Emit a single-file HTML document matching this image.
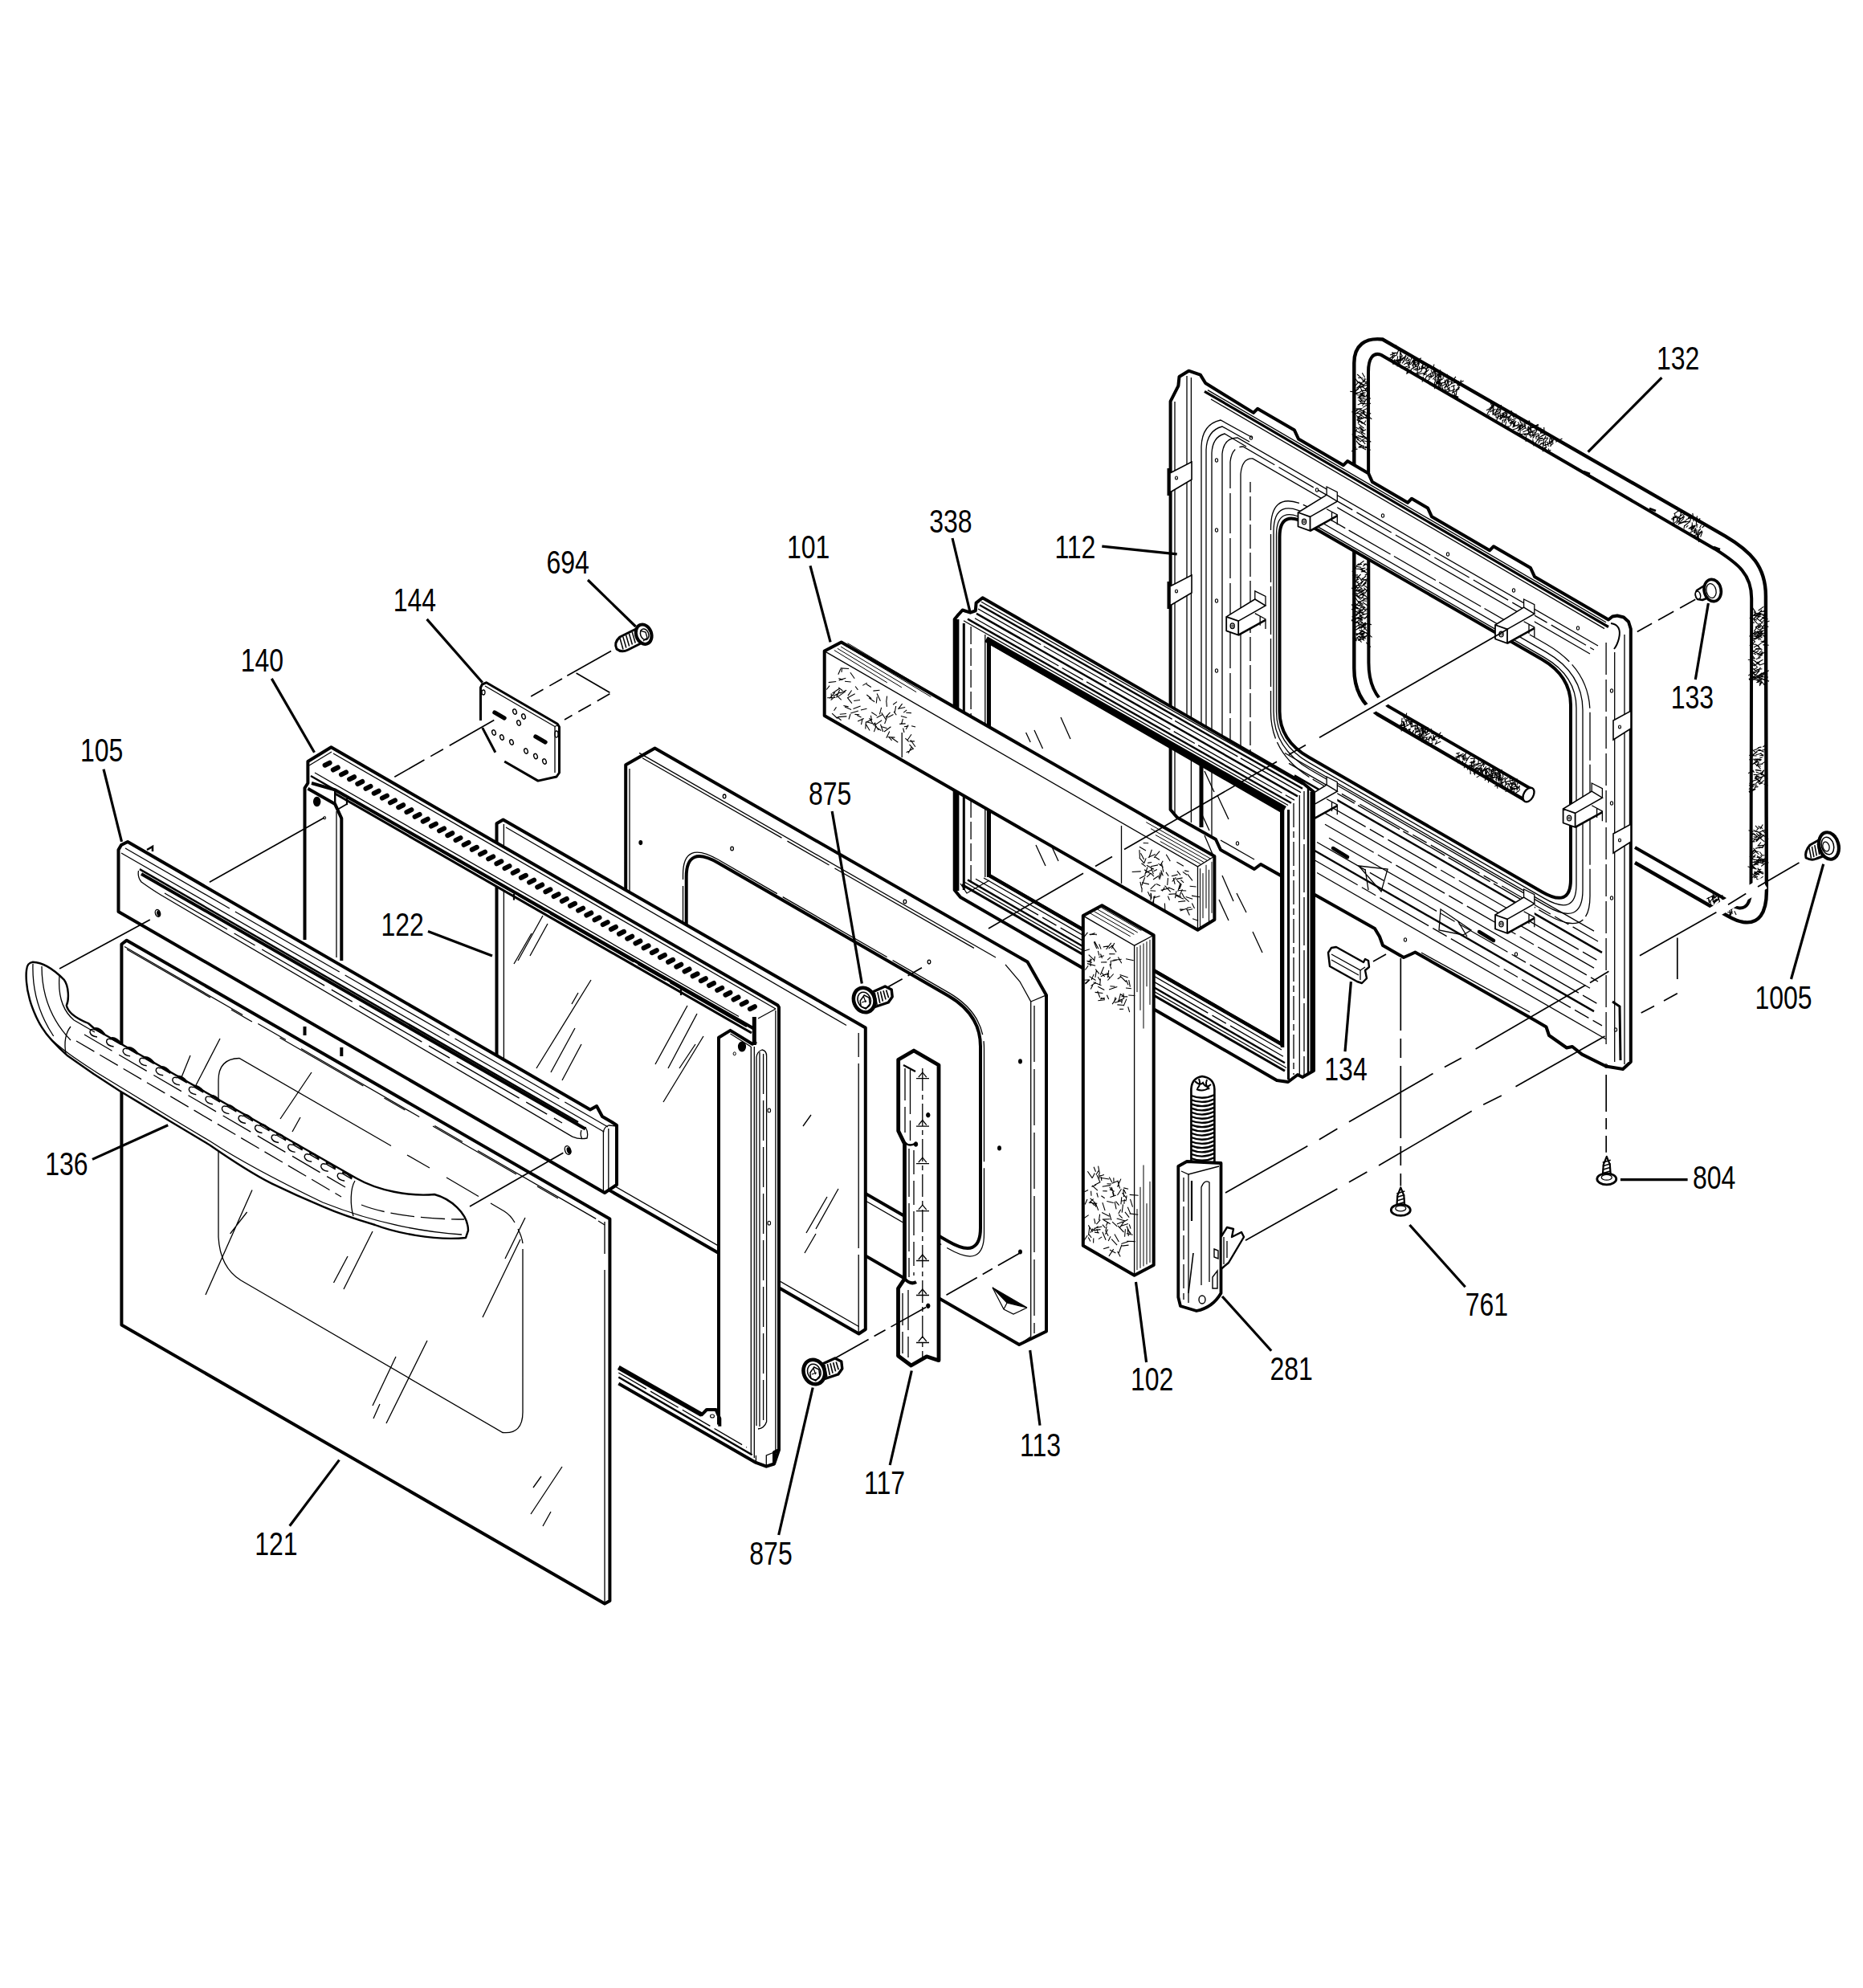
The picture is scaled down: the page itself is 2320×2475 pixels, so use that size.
<!DOCTYPE html><html><head><meta charset="utf-8"><title>Door assembly parts diagram</title><style>html,body{margin:0;padding:0;background:#fff}svg{display:block}text{font-family:"Liberation Sans",sans-serif;fill:#000}</style></head><body><svg width="2320" height="2475" viewBox="0 0 2320 2475"><rect width="2320" height="2475" fill="#fff"/>
<path d="M 1898,995.6 L 1715,889 C 1698,878 1686.3,860 1686.3,832 L 1686.3,452 C 1686.3,430 1700,420 1721.7,422.5 L 2148.3,667.3 C 2180,686 2198.9,705 2198.9,742 L 2199.9,1109.5 C 2199.9,1137 2190,1151 2170.9,1148 C 2160,1146 2155,1142 2148.3,1138.5 L 2036,1074" fill="none" stroke="#000" stroke-width="4.4"/>
<path d="M 1908.6,983.3 L 1729,879.4 C 1712,868 1704.4,850 1704.4,825 L 1704,463 C 1704,446 1710,438 1720,441.9 L 2135.5,683.4 C 2165,702 2181.2,715 2181.2,745 L 2180.5,1106.3 C 2180,1124 2175,1131 2166,1130.4 C 2160,1130 2155,1127 2148.3,1119.2 L 2036,1055" fill="none" stroke="#000" stroke-width="4"/>
<ellipse cx="1903.5" cy="989.5" rx="6" ry="9.5" fill="#fff" stroke="#000" stroke-width="2.4" transform="rotate(30 1903.5 989.5)"/>
<path d="M1743.3,450.5 L1739.8,456.4 M1769.9,462.6 L1761.5,465.8 M1802.3,477.6 L1798.4,483.2 M1794.7,469.8 L1793.6,460.3 M1736.7,441.7 L1729.9,446.7 M1772.1,453.5 L1770,457.2 M1755.6,447.4 L1751.3,449.8 M1734.3,445.2 L1734,438.2 M1811.8,490.2 L1812.2,494.8 M1788.8,478.2 L1793.1,474.7 M1758.6,455 L1762.4,448.6 M1785.5,461.3 L1786.7,457 M1748.5,448.6 L1750.5,442.1 M1770.1,460.3 L1772.4,453.6 M1777.6,456.7 L1784.3,456.6 M1783.2,466 L1790.2,465.4 M1796.4,475.9 L1792.8,482.4 M1810.6,484.8 L1808.4,489.8 M1815.1,477.9 L1822.6,474.1 M1792,477.9 L1794.1,472.5 M1736.8,447.2 L1733.9,452.4 M1774.8,460.5 L1778.5,457 M1784.3,467.7 L1779.3,468.6 M1779.2,471.4 L1786,467.2 M1753,456 L1744.7,458.7 M1734.3,443.9 L1733.4,448.4 M1765.6,450.5 L1764.2,445 M1755.3,455.2 L1752.4,459.7 M1737.7,439.7 L1731,441.9 M1806.9,481.5 L1812.3,479.8 M1740.1,434.9 L1738.5,429.5 M1790.1,474.6 L1792.1,482.5 M1798.7,476.9 L1799.7,472.6 M1782.4,464.3 L1777.2,468.5 M1809.7,489.2 L1810.1,484 M1808.4,486.3 L1800.7,487.8 M1808.6,474.7 L1812.9,468.9 M1746.1,452.5 L1750.1,445.7 M1766.3,455.5 L1767.7,451.4 M1753.4,444 L1750.2,449.5 M1758.4,459.6 L1751.5,464.3 M1757.7,461.2 L1751.3,465.5 M1786.5,475.2 L1786.7,484.2 M1790.1,471.4 L1788.5,479.6 M1744.1,439.8 L1743.1,447.9 M1780.6,471.9 L1775.9,474.9 M1803.6,481.2 L1803.7,472.3 M1781.9,460.4 L1784.1,465.5 M1795.7,480.4 L1801,477.8 M1764.7,458.3 L1760.2,460.6 M1805.8,481.8 L1799.7,487.1 M1795.6,480.3 L1793,475 M1741.4,450.1 L1744.8,456 M1771.4,454.6 L1772,459.5 M1740.3,449.9 L1747,448 M1760.3,450.4 L1759.1,456.1 M1741.7,435.7 L1738.7,443.2 M1772.3,458.4 L1779,458.1 M1815.4,479.8 L1822.5,479 M1777.1,467.3 L1774.3,473.1 M1761.4,451 L1764.6,457 M1769.7,462.5 L1771.7,456.4 M1760.8,452 L1767.2,450.2 M1760.4,451.9 L1764.3,447.4 M1758.1,445.3 L1756.4,449.4 M1743.7,438 L1743.6,445.1 M1771.9,467.2 L1776.9,465.6 M1737.9,449.2 L1745,448.6 M1802,475.5 L1808.2,474.8 M1755.7,458.4 L1752.7,452.3 M1757.4,459.6 L1764.5,455.5 M1793.3,476.7 L1787.8,478.2 M1791,475 L1793.6,481.6 M1799.3,477.8 L1801.7,472.5 M1767.8,456.2 L1767.1,460.9 M1767.8,460 L1762.3,460.9 M1746.7,442.7 L1742.1,448.4 M1785.9,464.8 L1787.5,462 M1787.3,469.1 L1787.9,461.9 M1774.8,462.5 L1773.3,466.6 M1804.6,486.9 L1802.1,480.3 M1740.6,443.4 L1739.7,451.5 M1807,478.3 L1808.9,471.8 M1789.4,475.2 L1796.5,472.3 M1811.3,485.1 L1806.3,486.9 M1778.7,469.4 L1782.7,467.7 M1762.7,456.2 L1759.9,450 M1811.3,489 L1812.5,496.8 M1814.3,479.6 L1819.5,474.6 M1791.4,471.5 L1794,464.2 M1799.7,476.1 L1793.8,477.3 M1804.4,487.5 L1805.3,483.7 M1745.9,442.9 L1742.9,436.1 M1750.6,448 L1753.4,445.7 M1803.9,474.8 L1803.8,469.4 M1783.6,463.8 L1790.1,460.1 M1812.6,485.4 L1818.1,482.1 M1781.5,464.8 L1782.4,470.6 M1742.7,448.5 L1748.3,445 M1815.5,480.2 L1816.3,474.3 M1776.3,461.4 L1772.8,466 M1772.4,458.2 L1776.8,454.9 M1773.3,464.5 L1765.7,465.9 M1756.5,454 L1760.3,447.6 M1814.2,484.9 L1813.2,492.6 M1815.4,483 L1817.7,479.7 M1767.3,450.3 L1763.8,454.2 M1803.3,480.7 L1809.2,476.3 M1772.7,465.7 L1777.1,461.1 M1766.6,460.3 L1772.7,456.6 M1800.8,482.3 L1802.8,475.2 M1754.7,454.8 L1754.7,446.3 M1801.7,478.1 L1799.1,482.9 M1795.1,473.3 L1792.6,466.2 M1772.4,468.9 L1771.1,475.7 M1785.5,464.2 L1785.2,459.2 M1738.6,447.6 L1735.9,452.6 M1796.3,469.8 L1802.8,466.1 M1755.8,453.8 L1754.5,448.1 M1795.5,480.9 L1798,487.8 M1789.1,476.8 L1792,474.6 M1760.8,453.7 L1761,445.9 M1787.5,464.6 L1787.8,473.9 M1792.5,474.8 L1791,468.8 M1744.5,449 L1744.3,443.2 M1790.9,475.8 L1787.5,479.2 M1777.3,457.7 L1776.2,461.8 M1808.1,477.3 L1813.1,476.3 M1811.3,485.8 L1809.8,479.3 M1793.3,466.8 L1789.5,470.5 M1750.4,444.4 L1747.7,451.1 M1750.4,452.4 L1757.1,450.7 M1817.8,480.1 L1819.4,472.9 M1765.1,458.6 L1765.2,467.5 M1798.2,470.6 L1790.7,475 M1791.4,465.1 L1788.5,469.2 M1799.3,483.7 L1801.1,488.7 M1740.1,439.1 L1733.3,439.6 M1784.2,472.4 L1789.2,467.7 M1765.2,459.6 L1766.5,451.2 M1736.7,448.2 L1734.8,454.1 M1779.7,466 L1777,468.6 M1748.2,453.9 L1753.1,450.7 M1792.9,477 L1794.4,485.7 M1744.1,452.2 L1743.1,443.2 M1740.1,448.1 L1742.4,455.7 M1738,442.2 L1734.2,446.2 M1788.9,477.3 L1786.3,472 M1802,471.6 L1802.7,476 M1762.7,449.8 L1769.9,445.8 M1759.8,453 L1760.3,448.2 M1760.1,459.1 L1759.8,450 M1787.6,469.4 L1795,464.5 M1790.8,472.7 L1792.4,464.9 M1748.5,445.6 L1744,449.6 M1784.3,460.7 L1785.9,453.5 M1759.9,451.9 L1762.3,447.8 M1779.6,459.8 L1774,465.4 M1737.1,449.2 L1744.3,446.9 M1810.3,488.5 L1817.3,483.7 M1745.6,446.5 L1751.5,443 M1789.5,475.4 L1793.4,472 " fill="none" stroke="#000" stroke-width="1.1"/>
<path d="M1928.2,558.5 L1929.9,563.5 M1912.6,544.7 L1916.1,541.3 M1904,531.1 L1903.6,537 M1931.3,560.3 L1926,563.9 M1861.3,503.8 L1857.3,507.8 M1926.2,550.2 L1918.2,552.4 M1883.7,518.8 L1888.3,515 M1866.7,521.4 L1874.4,517.8 M1913.9,547.5 L1921.2,546 M1866,518.7 L1863,524.6 M1891.1,536.3 L1892.4,530.6 M1922.7,554.5 L1929.8,552.3 M1913,541.9 L1912.9,546.7 M1865.3,520.9 L1865.6,515.8 M1930.1,555.6 L1934.5,551.6 M1903.4,533.3 L1910,532.3 M1908,532 L1915.8,528.3 M1868.5,520 L1867.9,515.7 M1870.4,523.3 L1875.9,522.3 M1876.7,515.9 L1875.2,523.6 M1858.6,507.8 L1856.3,501.8 M1934.8,547 L1928.9,551.3 M1922.6,542 L1923.5,537.8 M1854.9,516.1 L1851.3,518.6 M1902.5,539.9 L1895.7,540.3 M1889,532.4 L1895,528.1 M1922.5,551.1 L1921.4,556.8 M1883.2,517.9 L1882.1,511 M1902.6,534.2 L1904.5,541.8 M1875,521.5 L1872.9,526.3 M1869.5,509.1 L1863.6,509.5 M1905.7,538 L1914.9,534.1 M1874,518.2 L1877.5,515.2 M1917.5,548.2 L1915.5,552.2 M1858.8,502.5 L1858.5,508.3 M1877.2,514.4 L1872.2,516.1 M1896.9,532 L1896.3,526.2 M1924.1,556.4 L1920.9,562.2 M1904.8,529.7 L1904.1,523.3 M1860.3,516.2 L1867.2,514.5 M1905.4,534.1 L1896.4,538 M1912.7,535.3 L1916.9,532.3 M1856.6,508.1 L1851,510.8 M1905.2,530.4 L1907.4,537 M1859.3,514.8 L1860.2,510.6 M1890.2,532.9 L1883.7,535 M1858.9,516.1 L1864.1,511.9 M1855.8,511.1 L1859.3,505.1 M1883.9,524.3 L1880.6,530.5 M1889.9,536.1 L1896.9,532 M1880.7,518.6 L1877.1,523 M1906.3,545.1 L1905.1,537.5 M1879.9,530.9 L1873.4,531.6 M1859,517 L1859.2,507.9 M1880.7,518.6 L1883.3,512.7 M1899.7,527.8 L1905.3,524.4 M1862.6,512.7 L1863.3,520.8 M1890.4,532.2 L1895.9,529.5 M1903.5,530.5 L1901.8,535.7 M1927.9,545.5 L1924,549.8 M1908.7,546.8 L1910.1,555.3 M1879.7,526.6 L1886.5,523.2 M1872.1,520.1 L1879.7,518.6 M1909.3,531.8 L1916.1,529.4 M1904.7,542.5 L1908.7,541 M1900.6,541.5 L1900.1,549.9 M1918.6,540.3 L1918.8,532.6 M1922,541.3 L1916.3,545.1 M1900.5,534.2 L1898.2,528 M1855.3,508 L1861.6,503.3 M1892.5,533 L1890.1,537.1 M1860.3,504.1 L1859.4,511.5 M1918.4,543.7 L1925.5,540.3 M1868.3,510.1 L1863.6,513.2 M1855.4,509.2 L1851.8,516.2 M1886,525.3 L1883.8,532.5 M1893.4,531.2 L1892.9,539.7 M1878.3,524.1 L1880.7,517.4 M1925.2,542.5 L1922.4,548 M1920.9,551.7 L1915,555.4 M1893.6,526.2 L1891.8,519.9 M1921.4,545 L1914.5,546.7 M1894,525.4 L1895.4,532.3 M1929.2,550.6 L1930.5,544.1 M1864.9,509.4 L1865.7,505.1 M1881.3,528.4 L1884.9,525.5 M1884.7,530.8 L1891.5,529.2 M1893.8,534 L1900.3,528.8 M1921.4,554.3 L1922.7,547.1 M1903.6,539.4 L1897.7,541.7 M1932.7,551.2 L1932.2,544.6 M1934.6,548.5 L1931.4,550.5 M1925.6,555.9 L1922.6,562.1 M1871.5,523.3 L1870.4,528.5 M1868.4,512.8 L1860.8,517.2 M1873.2,514.5 L1868.9,518.1 M1876.6,516.4 L1872.2,520.9 M1919.6,538.6 L1920.9,534.9 M1920,540 L1921.2,534.1 M1915.6,545.5 L1917.1,540.4 M1892,531.8 L1895.4,528.3 M1901.8,536.1 L1909.3,531.4 M1892,528.3 L1885.1,530.8 M1937.3,550.2 L1945.5,546 M1862.6,509.2 L1855,512.9 M1885.4,520.4 L1883.2,514.6 M1931.6,555.5 L1930.7,551 M1893.1,531.4 L1890.5,525.4 M1867.9,522.6 L1873.4,517.5 M1927.7,544.7 L1920.9,547.1 M1865.8,509.5 L1862.8,511.8 M1902.2,541.7 L1906.1,535.3 M1930.8,546.9 L1934,544.5 M1872.7,516.4 L1869.6,519.9 M1884.7,530.4 L1888,524.1 M1875.8,524.7 L1873.9,532.7 M1909.8,542.8 L1908.4,538.1 M1870,518.1 L1875.7,514.2 M1911.4,540.7 L1916.5,539.7 M1921.1,548.5 L1915.4,549 M1905.5,538.4 L1912.6,537.8 M1927.2,549.8 L1928.2,555.8 M1912.7,538.2 L1915.6,531.2 M1886.6,530.3 L1885.4,523.3 M1912.8,538.2 L1907.3,543.7 M1898.8,532 L1898.6,525.2 M1915.4,546.7 L1911.4,552.4 M1882.9,523.9 L1880.4,527.6 M1870.6,516.6 L1864.2,519.8 M1900.8,540.9 L1904.6,538.2 M1924.5,551.8 L1925.6,557.9 M1882.5,516 L1876.8,521.2 M1882.3,520 L1878.3,525.4 M1886.1,531.9 L1884,526.8 M1866.3,516.4 L1864.6,521.3 M1927.1,552.8 L1934.2,550.5 M1868.6,512.6 L1869.5,504.1 M1908.6,545.7 L1911.9,540.7 M1875.9,515.5 L1873.9,510.3 M1905.5,535.9 L1907.1,530.6 M1893.9,528.8 L1892.1,532.7 M1923.4,541.3 L1922.7,531.9 M1912.3,540 L1909.5,545 M1894.5,535.9 L1900,532.2 M1876.2,512.5 L1869.7,515.1 M1880.5,523.6 L1888.2,521 M1862.7,513.5 L1863.9,510 M1867.6,512.2 L1869,520.4 " fill="none" stroke="#000" stroke-width="1.1"/>
<path d="M2093,645.8 L2096.9,642.4 M2091,635.5 L2084.5,639.9 M2120.1,661.5 L2117.6,668.5 M2089.2,645 L2095.6,640.3 M2111.8,649.5 L2113.5,642.4 M2083.3,645.1 L2090,642.9 M2106.8,660.8 L2108.9,656.2 M2114.8,665.2 L2110,666.5 M2119.3,660.5 L2116.1,665.8 M2099.6,646.7 L2107,644.2 M2105.6,660.2 L2111.2,655.1 M2087.9,648 L2092.8,641.8 M2112.2,652.2 L2113.8,644.7 M2084.5,645.7 L2083.3,654.4 M2102,644.8 L2108.3,643.2 M2085.7,642.4 L2085.8,638.4 M2112.1,665.2 L2113.2,659.3 M2086.9,642.9 L2084.2,645.2 M2109,649.2 L2108.9,645.2 M2115.5,665.9 L2113,670.3 M2106.8,655.3 L2114.4,653.2 M2103.3,650.3 L2097.7,654.7 M2119.1,661.8 L2115.1,666.2 M2109,646.9 L2107.8,638.9 M2107.2,653.4 L2105.9,660.2 M2114.5,650.4 L2121.1,650.4 M2094.1,645 L2089.5,649.2 M2096.9,645.3 L2092.5,649.6 M2115.7,651.2 L2116.9,645 M2090.5,648.6 L2087.5,651.9 M2112.5,650.5 L2113.3,656.7 M2097.6,654 L2097,658.3 M2116.3,658.9 L2114.4,662.7 M2089.3,647.9 L2083.2,652.6 M2112.2,659.5 L2104.6,663.1 M2093,650 L2089.7,653.3 M2100.4,648.1 L2091.3,651.4 M2115.1,665.4 L2115.5,675 M2119.6,657 L2124.9,652.3 M2104.8,648.8 L2097.8,650.2 M2107.2,650.4 L2107.6,658.9 M2106,660.4 L2110.8,654.6 M2083.6,643.3 L2083.1,647.7 M2104,650.5 L2106.5,643 M2091.1,650 L2092.5,644.4 M2091.6,644.8 L2090.8,652.7 M2114.9,664 L2112.4,670.9 M2118.6,653.5 L2116.5,657.5 M2100,649 L2091.8,652 M2092.3,638.2 L2097.8,637.5 M2088,641.9 L2084,645 M2107,655.3 L2102.6,658.4 M2088.9,643.4 L2081.1,646.3 M2092.2,642.4 L2094.3,636.5 M2112.1,659.1 L2109.3,663.6 M2110.2,654.5 L2104.1,658.4 M2102.3,654.2 L2099.6,656.7 M2112.4,664.7 L2118.1,662.3 M2094.5,645.3 L2098.1,643.2 M2113.8,663.1 L2117.9,658.1 M2087.9,643.3 L2089,647.8 M2089.7,636 L2088.4,630.8 M2083.2,644.7 L2087,642.6 M2110.8,663.9 L2109.3,655.9 M2111.8,657 L2110.8,664.2 M2121.1,655.2 L2126.9,653.3 M2095.9,641.4 L2100.8,639.3 " fill="none" stroke="#000" stroke-width="1.1"/>
<path d="M2195.4,781.2 L2190.6,776 M2184.4,796.1 L2191,792.8 M2193,808.3 L2189.2,804.9 M2185.6,843.5 L2192.2,839.8 M2188.3,787.9 L2194.6,792.4 M2188.6,767.8 L2194.6,763.9 M2195.5,802.6 L2202.7,803.2 M2184.5,787 L2190.1,791.2 M2191.2,805.8 L2185.5,801.7 M2185.8,787.5 L2182.6,789 M2189.5,785.2 L2184.4,791.2 M2191.2,777.6 L2195.1,774.9 M2186.7,792 L2191.1,796.9 M2195.9,769.1 L2199.9,770.5 M2192.3,781.4 L2188.5,775.9 M2184.7,822.8 L2192,828.3 M2192.8,761.6 L2200.2,760.6 M2188.4,844.9 L2181.7,841.2 M2194.9,800 L2199.6,797.9 M2196.1,760.8 L2199.9,759.2 M2195.4,786.1 L2188,782.6 M2196,765.3 L2199.8,761.1 M2190.1,763.7 L2194.2,759.1 M2186.3,807.6 L2191.1,807.4 M2191.2,781.8 L2188,778.8 M2185.5,840 L2180.3,837.1 M2193.9,781.8 L2198,777.5 M2184.2,764.6 L2189.8,763.5 M2187.9,841.1 L2194.5,841 M2193.9,768.4 L2200.8,773.5 M2187.9,790.3 L2194.5,794.1 M2187.9,807.5 L2181.8,812.6 M2195.7,846.1 L2203.1,848.1 M2184.6,764 L2188.2,766 M2194.5,765.4 L2200.4,768.4 M2193.8,843.5 L2196.8,837.6 M2195.2,838.9 L2201.8,843.4 M2184.9,809.6 L2188.8,807.5 M2186.3,840.3 L2191.4,834.6 M2188.7,763.1 L2193.9,764.4 M2191.9,772.5 L2198.3,766.6 M2185.6,835.4 L2189,834 M2192.5,830.9 L2188.5,836.5 M2195.2,768.6 L2201,768.7 M2185.2,799.1 L2178.7,803.6 M2192.7,777.6 L2185.9,781.2 M2184.9,775.1 L2181.2,775 M2189.4,790.5 L2196.5,784.5 M2189.4,788.1 L2194.6,787.9 M2193.4,766.8 L2186.6,770 M2188.3,848.7 L2194.3,846.5 M2190.4,842.2 L2183.3,846.6 M2188.5,830.8 L2183.5,834.1 M2187.8,792.6 L2184.2,788.3 M2194.4,832.8 L2187.3,833.7 M2188.4,791.5 L2184.9,796.8 M2187.9,776.2 L2183.4,770.4 M2183.9,761.8 L2190.7,765.5 M2194.6,845.8 L2189,846.7 M2186.5,844.4 L2179.1,846.2 M2186.7,820.8 L2192.5,818.4 M2191.3,843.5 L2197,845.9 M2193.6,787.9 L2198.1,793.8 M2191.3,840.9 L2196.2,838.3 M2196.6,797 L2200.4,799.4 M2191.8,815.3 L2199.1,811.2 M2183.6,766.1 L2191,767.3 M2195.5,788.1 L2191.4,793.2 M2186.2,840.3 L2182.6,837.9 M2194.5,845.3 L2201.1,845.9 M2193.2,846.3 L2187.8,841.5 M2192.5,762.9 L2188.9,768.8 M2184.7,786 L2190.9,787.9 M2184.9,845.7 L2191.1,848.1 M2189.3,825.1 L2184,829.3 M2195.8,803.6 L2199.6,800.7 M2187.5,795.2 L2180.7,793.9 M2196.4,798.1 L2189.4,803.6 M2194.6,773.7 L2201.5,770.5 M2190.3,809.8 L2184.1,813.7 M2187.2,849.7 L2194.4,848.2 M2185.5,836.3 L2179.9,837.7 M2192.6,842.1 L2198.5,843.3 M2188.2,763.4 L2192.4,765.3 M2184.7,787.7 L2178.8,791.7 M2184.7,840.2 L2191.7,842.6 M2189.6,814.4 L2182.2,809.4 M2190,824.2 L2195.5,821.2 M2195.8,778.1 L2202.3,780.4 M2183.5,770.5 L2190.3,764.5 M2188.3,835.9 L2182.5,838.7 M2190.3,763.1 L2186.6,767.8 M2185.7,827.4 L2181.4,828.6 M2191.2,763.1 L2198.6,767.4 M2187.4,786.9 L2194,786.1 M2196.5,775.7 L2203.5,773 M2191.3,828 L2197.1,825.9 M2193.3,815.8 L2188,813 M2184.4,785.8 L2188,780.9 M2194.5,848.8 L2191.1,854 M2184.7,820.2 L2179.5,818.3 M2183.4,801 L2179.6,805.1 M2183.6,770.3 L2188,772.2 M2195.7,841.6 L2188.9,844.3 M2186.4,762.4 L2182.6,756.9 M2192.3,789.2 L2199.7,787.6 M2194.4,849.1 L2198.4,854.5 M2183.5,821.6 L2186.8,824 M2185.4,820.1 L2181.9,815.8 M2189.4,803.1 L2183.9,806 M2186.5,835.5 L2183.3,832.1 M2189,781.4 L2192.9,779.6 M2187.2,792.7 L2179.9,790.9 M2193.9,848.3 L2190.8,852.2 M2184.1,825.8 L2178.8,823.5 M2191.4,824.7 L2187.8,824.3 M2190.7,792 L2187.1,795.4 M2191.1,825.9 L2187.6,826.6 M2190.2,840.5 L2197.6,836.7 M2188.6,815.4 L2194.3,809.6 M2185.9,799.3 L2182.3,795.5 M2190.9,785.7 L2195.3,781.7 M2187.6,791.1 L2193.1,796.3 M2192.2,783.2 L2197.6,781.6 M2194.1,837.6 L2189,842.2 M2183.4,813.6 L2187.1,814.8 M2185.7,764.6 L2178.7,769.9 M2188.6,830.6 L2183.1,825.3 M2185.1,802.8 L2181.1,800.2 M2183.8,822.2 L2176.8,821.2 M2189.6,760.2 L2196.4,755.1 M2195.7,799 L2200.6,796.4 M2183.9,836.1 L2177.2,841.1 M2183.3,843.1 L2180.2,840.6 M2191,806.6 L2194.4,808.6 M2189.9,816.7 L2195.3,811.5 M2194.9,799.3 L2198.4,797.2 M2193,790.5 L2187.4,792.2 M2183.9,766.3 L2187.6,766.9 M2192.6,798.2 L2197.3,798.5 M2193.4,808.3 L2187.6,808.1 M2189.4,818.6 L2195,815 M2187.5,846.2 L2193.8,845.6 M2192.6,789.9 L2188.2,787.7 M2190.2,778.8 L2185.9,780.8 M2185.1,788.4 L2178.5,792.4 M2195.5,775.9 L2188,770 M2196.7,838 L2202.7,834.7 " fill="none" stroke="#000" stroke-width="1.1"/>
<path d="M2186.7,961.1 L2193.3,964 M2196.4,976.1 L2201.5,977.9 M2195.2,975 L2190.1,975.6 M2196.6,958.7 L2192.6,963.7 M2194.6,968.3 L2188,969.7 M2196.7,936.3 L2189.8,932.9 M2185,979.1 L2189.3,979.6 M2194,963.9 L2201.2,969.5 M2192.7,974.7 L2188.1,970.4 M2192.7,933.3 L2187,935.4 M2192.6,946.9 L2185.9,944.7 M2187.2,954.1 L2190.5,948.3 M2185.3,967.5 L2188.4,965.9 M2196.6,958.9 L2193.4,964.4 M2186.5,939.8 L2193.7,938 M2189.7,947.7 L2183.2,950.7 M2185.1,969.9 L2188.3,965 M2188.5,947 L2181.4,952.1 M2192.5,957.3 L2188.1,952.2 M2187.4,937.4 L2180,932 M2189.5,979.3 L2184.7,980.5 M2190.6,971.3 L2185.7,976.3 M2190.1,931.6 L2183.3,934.4 M2188.2,977.5 L2181.7,976.7 M2185.3,937.5 L2181,943.5 M2183.6,972.6 L2178.5,975.4 M2192.8,954 L2188,952.5 M2183.8,979.4 L2178,977.5 M2193.1,934.5 L2199.6,932.8 M2186.3,969.3 L2192.4,972.4 M2187.2,948.2 L2183,951.4 M2192.8,964.5 L2200,965.5 M2189.4,930.6 L2193.5,930.1 M2188,970.8 L2181.4,972.6 M2185.6,966.9 L2190.1,971.3 M2183.6,964.4 L2190.9,964.8 M2185.5,938.3 L2178.2,940.6 M2186.9,966 L2190.7,967 M2191.1,963.3 L2196.9,964.9 M2196.4,966 L2192.7,967.8 M2187.5,941 L2181.7,940.6 M2196,941.3 L2192.4,937.5 M2196.3,939.7 L2191.2,941 M2193.5,959.5 L2186.5,958.4 M2191.2,943.9 L2194.7,942.4 M2188.5,931.8 L2191.9,929.9 M2183.8,959 L2177.1,962.8 M2191.8,962.1 L2195.4,962.9 M2183.7,977.9 L2177.9,982.6 M2195.3,930 L2200.8,925.7 M2184.7,961.5 L2180,958.2 M2183.6,944.6 L2188.3,949.5 M2193.2,959.8 L2185.8,958.8 M2183.5,946 L2178.2,945.7 M2188.4,936.1 L2183.4,939.5 M2196.6,971.3 L2191.2,976.6 M2193.4,969.1 L2189.2,975 M2188.5,944.7 L2193.7,945.9 M2195.2,967.2 L2188.7,967.6 M2192.7,946.8 L2187.4,945.1 M2188.8,967.3 L2185.6,966.7 M2184.8,975.8 L2179.3,979.2 M2189,951.4 L2195.2,951.2 M2191.5,975.6 L2196.3,971.9 M2185.5,944.8 L2188.8,947.2 M2192.9,951.6 L2199.4,947.4 M2189.3,953.9 L2184.1,949.8 " fill="none" stroke="#000" stroke-width="1.1"/>
<path d="M2185.7,1081.6 L2180.5,1075.6 M2190.4,1073.1 L2184,1076.3 M2185.9,1047.7 L2179.6,1048.2 M2194.1,1074.3 L2199.6,1071.5 M2187.5,1082.2 L2180.7,1077.3 M2185.9,1082 L2180.9,1078.4 M2192.8,1071.3 L2200.1,1067.7 M2191.9,1072.6 L2199.1,1072.8 M2187.3,1071.9 L2194,1066.2 M2188.6,1053.5 L2193,1048.6 M2189.7,1087.2 L2193.2,1085 M2190.2,1042.8 L2186.6,1047.1 M2196.6,1075.4 L2190.1,1073.4 M2188.4,1088.8 L2184,1087.5 M2183.3,1038.2 L2180,1041.2 M2183.5,1055.9 L2187.6,1060.6 M2184.7,1073.6 L2189.8,1077.1 M2190.4,1063.6 L2184.2,1058.6 M2193.2,1078.5 L2198.4,1074.6 M2195.1,1031.4 L2189.4,1028.5 M2184.2,1059.3 L2180.1,1063.9 M2193.1,1069.8 L2188,1065.5 M2192.6,1054.5 L2186,1056.4 M2184.3,1093.1 L2189,1090.9 M2190.2,1055.9 L2196.7,1053.4 M2190.7,1030.4 L2187.4,1033.7 M2187.1,1037.3 L2191.7,1041.5 M2194.1,1034 L2201.4,1033.1 M2185.8,1080.8 L2180.6,1076.1 M2194.8,1053.5 L2200.6,1049.3 M2195.4,1070.8 L2198.9,1070.4 M2188.3,1088.5 L2182.1,1092.5 M2188.4,1035.4 L2195.5,1040.1 M2187.4,1059.4 L2180.8,1064.7 M2190.8,1089.1 L2184.3,1086.4 M2195.9,1076.3 L2202.5,1073.7 M2195.6,1091.1 L2188.8,1096.7 M2184.3,1058 L2181.2,1061.8 M2189.5,1071.5 L2186.4,1070 M2183.3,1033.4 L2189.8,1035.8 M2195.7,1052.3 L2189.4,1052.9 M2190.1,1060.2 L2186.7,1060.4 M2189.7,1032 L2186,1027.8 M2191.5,1066.9 L2187.5,1067.7 M2191.1,1089.2 L2187.4,1086.1 M2186.1,1067.2 L2180.6,1065.1 M2190.8,1054.8 L2195.6,1055.4 M2187.1,1073 L2193,1071.5 M2183.6,1073.3 L2187.4,1071.9 M2196.2,1034 L2189.8,1036.5 M2191.8,1036.5 L2194.9,1039.9 M2189.1,1044.7 L2182,1044.3 M2185.1,1077.1 L2188.8,1072.5 M2183.5,1037.3 L2186.7,1040.3 M2186.9,1073.9 L2181,1073.3 M2185.1,1043.1 L2191.7,1039.7 M2193.3,1068.5 L2199.9,1074.4 M2187.5,1076 L2181,1077.2 M2191.8,1032.1 L2195.3,1026.5 M2184,1089.9 L2188.9,1084.5 M2196.6,1039.1 L2193.3,1043 M2188.8,1035.7 L2184.5,1034.7 M2183.6,1041.8 L2188.3,1042.6 M2190.3,1070.7 L2186,1075.4 M2190.7,1042.5 L2197.3,1047.9 M2189.8,1082.6 L2193.4,1082.3 M2189.6,1086 L2195.7,1085.7 M2184.6,1084.7 L2188.3,1089.2 M2192.2,1085.6 L2188.1,1084 M2191.9,1085.6 L2188.8,1080.6 M2186.4,1070.5 L2179.2,1069 M2184.5,1038.2 L2191.2,1043.6 M2186.3,1063.8 L2181.1,1069.8 M2188.8,1084.7 L2195.7,1088.3 M2195,1034.3 L2198.5,1037 M2189.9,1040.1 L2193.4,1043.4 M2183.5,1035.6 L2177.5,1033.8 M2186.9,1040.3 L2179.8,1036.5 M2185.1,1070.9 L2178.8,1066.2 M2190.6,1069.9 L2197.2,1072.7 M2188.3,1093.1 L2181.2,1087.1 M2196.3,1087.4 L2188.9,1082.1 M2187,1047.9 L2191.7,1043.1 M2191.7,1084.3 L2185,1086.3 M2191.3,1060.5 L2194.4,1064.5 M2190.7,1036.8 L2193.8,1042.4 M2190.3,1074.1 L2187,1076.6 M2183.4,1081.6 L2176.5,1078.7 M2192.1,1065.2 L2197.5,1064.7 M2187.1,1093.8 L2190.3,1095.7 M2196.7,1070.4 L2189.8,1070.9 M2196.3,1041.1 L2193.2,1038.7 M2196,1040 L2202.2,1044.6 M2186.9,1044.1 L2181.2,1048.6 " fill="none" stroke="#000" stroke-width="1.1"/>
<path d="M1699.7,499.1 L1693.8,499.6 M1701,502.9 L1695.7,502.1 M1700.5,476.3 L1705.4,471.8 M1693.3,490.1 L1700.5,488.9 M1701.1,557.9 L1694.3,553.6 M1697.6,480.6 L1690.9,481.6 M1696.7,527.5 L1691.3,522.2 M1692.6,488.5 L1687.6,489.6 M1697.7,510.8 L1704.3,507.7 M1694.7,521.7 L1701.6,519.2 M1700.2,558.2 L1705,554 M1701.2,514 L1707.2,514.9 M1697.5,548.8 L1703.6,549.8 M1690.4,511.1 L1683.2,513 M1692.3,475.5 L1698.2,479.3 M1696.5,495.6 L1690.5,495.2 M1700.2,485.1 L1703.4,480.7 M1696.5,492.3 L1689.6,491.7 M1689.8,519.4 L1696.5,516.8 M1696.9,507.4 L1703.9,503.2 M1698.6,485.9 L1694.6,486.9 M1701.7,493.6 L1696.8,494.4 M1692.4,555.8 L1697.7,557.9 M1689.6,474.9 L1696.1,478.4 M1696.4,505.3 L1699.8,500.1 M1698.9,476.1 L1695.2,470.7 M1699.7,470 L1696.3,464.3 M1693.5,548.7 L1689.8,546.9 M1700.1,502.8 L1706.9,502.4 M1700.6,513.5 L1697.1,510.7 M1699.6,544.6 L1702.7,544.9 M1694.4,483.2 L1697.5,488.9 M1692.4,547.7 L1688.2,543.7 M1694.6,539.5 L1688.1,536.2 M1688.5,543 L1695.3,546.9 M1698.7,536.6 L1693.4,530.9 M1698,472.5 L1702.1,478 M1689.1,510.3 L1696.5,508.6 M1698.7,489.8 L1694.8,491.3 M1690.4,551 L1695.6,554.6 M1692.8,477.6 L1699.9,480.6 M1699.3,513 L1692.8,516.6 M1696.4,557.4 L1701.2,560.1 M1700,485.3 L1703.7,489 M1690.6,483.2 L1698,481.4 M1700,519.4 L1703,521.2 M1689.1,517.4 L1694.1,521.3 M1698.4,489 L1694,490 M1696.1,493.3 L1699.7,491.6 M1693.9,511.2 L1686.8,516.2 M1694.6,515.1 L1689.2,514.4 M1701.7,486.5 L1695.1,486.2 M1694.2,535.3 L1698.7,535.9 M1700.3,540.6 L1694.8,537.9 M1694.9,539.5 L1700.4,544.5 M1693.5,509.9 L1698.8,512.2 M1694.6,510.7 L1699.7,513.1 M1689,548.9 L1693.2,554.2 M1699.9,545.6 L1696.4,540.5 M1700.8,491.7 L1706.8,496.4 M1692.1,483.9 L1686.1,488.5 M1698.8,557.1 L1691.5,556.9 M1690.5,559.1 L1686.8,559.3 M1699.1,500.5 L1703.5,494.8 M1695.8,519.9 L1692.7,521.4 M1700.9,516.1 L1708.3,521.8 M1698.2,479.4 L1701.3,476.7 M1696,481.7 L1703.2,478.8 M1689.3,483.4 L1694.9,478.5 M1692.5,475.2 L1687.5,480.4 M1690.9,527.1 L1694.3,521.9 M1695.6,547.6 L1700.2,552.8 M1700,494.1 L1694.6,489.4 M1701.1,484.5 L1697.2,482.2 M1697.8,538.4 L1692.6,536.5 M1698.4,471.6 L1701.4,472.2 M1695.3,487.1 L1688.1,490.9 M1695.1,508.9 L1688.3,509 M1688.5,531.9 L1693,534.4 M1696.3,527.2 L1691.7,522.8 M1691.7,476.4 L1687.6,471.4 M1690,545.7 L1684,542.6 M1695.5,496.4 L1691.8,493.5 M1688.6,556.6 L1683.2,562.1 M1696.9,497.9 L1693.9,497.6 M1699,515.2 L1693.8,512.4 M1696.4,478.1 L1693.2,475.7 M1693.8,491 L1699.2,492.8 M1689.9,534.4 L1685.1,540.3 M1692,483.5 L1686.1,487.5 M1693.3,550.3 L1699.6,545.9 M1694.9,517.1 L1701.7,521.1 M1689.7,522.6 L1695.8,519.3 M1700,472.8 L1695.3,476.8 M1693.3,520.3 L1699.1,520.1 M1691,470.3 L1697.3,470.7 M1700.9,529.3 L1694.5,524.2 M1691.9,493.9 L1695.8,499.6 M1696.6,514.5 L1701.7,517.7 M1693.1,525.5 L1689.7,522.6 M1697.6,536.9 L1692.1,531.6 M1692.7,494.2 L1698.8,491.7 M1695.5,516.5 L1690.4,521.2 M1688.5,487.9 L1681.3,487.4 M1688.7,543.8 L1683.7,540.3 M1698.9,555.1 L1693.3,555.4 M1700,555.7 L1706.7,560.4 M1698.6,533.3 L1691.6,527.6 M1695.1,470.3 L1690.1,466 M1697.5,501 L1690.7,504 M1700.1,545.5 L1707.3,550.3 M1696.7,496.1 L1701.5,497.2 M1696,502.5 L1691.7,497.7 M1697.9,545.1 L1690.7,542.3 M1699.2,516 L1703.9,520.6 M1693.2,543.1 L1700.3,543.7 M1701.1,534.8 L1694.8,537.8 M1697.9,528 L1701.1,523.5 M1697.1,512.5 L1701.5,518.2 M1692.9,493.4 L1697.2,492.1 M1699.6,485.1 L1703.5,485 " fill="none" stroke="#000" stroke-width="1.1"/>
<path d="M1688.8,722.7 L1692.3,717.7 M1688.3,724.7 L1692.2,724.3 M1695.1,745.3 L1698.9,740.4 M1701.5,723.4 L1697.3,728.2 M1700.2,737.9 L1704.4,732.7 M1696.7,762 L1690.7,764.3 M1693,749.8 L1700,745.5 M1689,706.4 L1683.8,711.8 M1691.9,757.9 L1684.9,756.2 M1699.9,787.8 L1693.5,790.1 M1688.9,770.2 L1695.7,766.6 M1694.6,715 L1689.3,719.9 M1692.3,750.7 L1688.3,744.9 M1698.1,734.3 L1693.2,738.3 M1699.4,789.1 L1694.6,791.1 M1699,797.5 L1692.6,791.6 M1697.1,776.4 L1693.4,773.2 M1695.7,741 L1700.6,738.5 M1700.6,709.5 L1704.1,707.8 M1694.9,780.8 L1701.1,775.5 M1699.9,701.7 L1704.6,704.6 M1688.7,735.1 L1691.7,731.7 M1701.3,787.5 L1708.6,793.4 M1699.3,758 L1692,753 M1695,760.5 L1689.9,756 M1695.6,758.1 L1692.1,760.8 M1695.4,771.5 L1690.6,768.3 M1695.7,719.8 L1699.2,722.3 M1701.4,761.2 L1696.8,756.3 M1691.5,796.8 L1696.8,793.2 M1694.7,722.9 L1701,717 M1689.5,761.3 L1695.8,767.1 M1697.7,722.4 L1703.2,720.8 M1690.3,794.1 L1695.6,799.6 M1697.8,778.3 L1691,776.8 M1690.3,795.9 L1685.9,797.2 M1692.5,784.3 L1699.7,788.1 M1696.9,760.5 L1691.9,760.8 M1698.1,783.8 L1701.4,781.1 M1700.2,742 L1693.4,739.5 M1694.9,780.4 L1699.2,779.4 M1688.7,736.1 L1695.3,733.1 M1693.7,781.3 L1687,784.7 M1696.5,779.3 L1702.5,785.3 M1691.1,792 L1694.8,794.3 M1695.5,708.7 L1702.4,713.8 M1693.6,709.3 L1700.4,707.1 M1689.3,703.9 L1696.2,702.3 M1690.8,782.8 L1697,780.7 M1696.9,729.7 L1701.4,725 M1697.1,772.1 L1693.3,770.8 M1691.2,743.1 L1687.7,740.6 M1691.6,717.7 L1688.1,718.3 M1690.6,773.6 L1685.1,778.2 M1695.3,773.6 L1700.8,779.6 M1700,793.1 L1695.5,789.2 M1700.9,776.2 L1707.9,777.6 M1689.1,741.5 L1694.7,746.6 M1688.5,769.2 L1683.3,773.3 M1697.6,752.8 L1691.5,748.3 M1695,783.8 L1702.4,789 M1698.8,728.9 L1704.2,732.8 M1700.1,764.7 L1695.3,763.2 M1697.1,794.5 L1703.2,790.2 M1700.7,768.8 L1704.5,764.4 M1696,796.4 L1701.8,791.7 M1701.2,799.9 L1706.9,805.7 M1689,735.8 L1683,731.9 M1696.8,723.6 L1692.3,727.3 M1693.3,737.5 L1690.1,740 M1697.5,789.1 L1694.4,787.4 M1694.2,736.6 L1698.5,740.1 M1691.7,778.3 L1686.1,782.4 M1690.1,729 L1695.2,728.9 M1697.1,765.4 L1702.7,763.7 M1695.6,760 L1690.5,760.6 M1699.4,770.9 L1703.1,766 M1691.5,779.3 L1695.5,776.3 M1699.1,788.2 L1695.6,790.8 M1697.5,721.2 L1704.9,724 M1693.1,757.6 L1696.2,755.5 M1696.2,785.5 L1689.1,791.2 M1694.9,709.6 L1700,712.2 M1689.5,798.2 L1684.6,793.9 M1688.9,770.9 L1682.9,772.1 M1698.3,765.7 L1692.2,760 M1695.2,706.4 L1689,705.2 M1698.2,769.3 L1703.5,768.2 M1692.4,720.8 L1686.2,724.5 M1690.1,765.5 L1683.5,768.1 M1692.9,731.4 L1689.6,731.5 M1692.5,788.6 L1699.6,794.2 M1693.4,761.8 L1688.3,765.3 M1699.6,761 L1695.5,763.7 M1699,759.7 L1705.1,756.9 M1688.3,744.5 L1684.7,745.6 M1689.3,784 L1694.1,779.4 M1690.2,738.6 L1684.2,739.8 M1694.4,748.7 L1701.3,745.1 M1689,775.5 L1694.7,774 M1693.9,748.4 L1688.2,754.4 M1694.4,727.6 L1698.3,722.5 M1696.6,733.5 L1692.1,729.4 M1691,749.1 L1696.8,754.5 M1695.4,747.8 L1701.9,748.2 M1692.4,766.7 L1697.7,765.5 M1695.3,744.9 L1688.7,740.3 M1694.9,792.3 L1701,795.2 M1688.9,756.6 L1683.1,752.8 M1691.1,715.9 L1684,716.3 M1693.6,767.9 L1697.8,768.5 M1692.5,771.4 L1697.4,767.7 M1693,754.8 L1687.1,751 M1700.1,710.1 L1696.2,711 M1695.8,770.6 L1689.4,768.8 M1694.8,711.9 L1700.4,711.3 M1697.3,736.8 L1693.8,736.7 M1700.4,756.8 L1693.6,752.3 M1697.3,744.8 L1702.6,745.9 M1695.4,778.5 L1689.4,774 M1699.3,707.4 L1694.3,708.1 M1689.3,766.7 L1693,760.7 M1688.5,788.9 L1693.1,789 M1690.2,756.2 L1682.9,752.8 M1693.8,791.6 L1686.7,795.8 M1699.8,715.9 L1704.1,714.6 M1697.8,744 L1694.5,744 M1691.9,733.5 L1696.3,738.4 M1700.4,757.9 L1705.9,759.7 M1692,742.5 L1699.4,737 M1693.3,762.8 L1698.8,757.4 M1692,701.7 L1688.5,705.5 M1689.8,736.2 L1696.4,734.5 M1688.6,708.3 L1695.5,708.4 M1693.3,728.1 L1688.4,723.4 M1699.7,740.8 L1704,746 M1694.8,788.6 L1688.4,790 M1691.1,797.4 L1698.5,795.1 M1698.1,702.1 L1704.8,703.5 M1697.8,780.3 L1701.4,781.5 M1692.3,702.7 L1698.6,698.3 M1692,727.3 L1686,733 M1689.7,730.2 L1686.1,736.1 M1691.5,769.4 L1698.5,770 M1694.6,782.5 L1701.9,776.5 M1689.8,728.8 L1686.3,729.7 M1688.5,769.4 L1695.8,771.8 M1690.3,753.1 L1684.2,754.6 M1697.2,705 L1701.7,701.7 M1694.1,737.6 L1690.2,735.2 M1691,772.2 L1696.7,772.1 M1700.5,774.7 L1695.7,779.3 M1696.7,749.8 L1702.7,753.8 M1692.8,780.4 L1699.4,779 M1698.2,731.7 L1702.7,736 M1696.5,723.6 L1692.3,718.4 M1690.2,762.3 L1683.1,758.3 M1691.6,773.1 L1687.7,775.1 M1694.7,738 L1700.2,733.5 M1701.3,726 L1695.2,730.2 M1694.8,761 L1699,756.4 M1690.5,758.1 L1684.6,753.4 " fill="none" stroke="#000" stroke-width="1.1"/>
<path d="M1766.6,908.7 L1763.2,902.8 M1765.1,915.4 L1767.9,913.4 M1747.6,897.7 L1747.1,904.1 M1753.7,899.2 L1759.8,898.9 M1769.8,916.3 L1767.9,910.1 M1757,907.5 L1749.8,910.1 M1758.8,901.8 L1757.7,896.5 M1782.5,925.2 L1780.9,927.8 M1746.5,897.8 L1744.2,904.1 M1750,902 L1741.6,904.7 M1748.5,900.6 L1747,903.1 M1786.9,921.1 L1785,914.8 M1773.2,909.5 L1771.2,902.2 M1769.3,913.6 L1772.7,919.5 M1792.3,919.8 L1792.4,913.2 M1775.4,908.9 L1778.5,905.7 M1782.5,913.6 L1785.5,910.4 M1765.9,908.7 L1764.4,899.8 M1782.1,916.9 L1779.2,920.6 M1762.2,902 L1762.4,908.4 M1744.4,901.7 L1743.5,908.3 M1754.7,907 L1757.2,913.8 M1763.8,907 L1762.4,913.6 M1750.5,906.2 L1753.5,912.4 M1750,907.4 L1748.4,898.4 M1749.6,896.4 L1756.6,895.4 M1763.2,903.3 L1756.3,905.3 M1768.8,914.6 L1769.4,918.5 M1780.1,916.6 L1779.1,923.5 M1777.3,922.2 L1770.2,923.7 M1770.9,908.2 L1771,914.6 M1758.1,898.5 L1756.9,901.9 M1764.5,904.5 L1767.3,900.6 M1790.3,917.3 L1794.3,911.6 M1768.3,912 L1766.5,918.6 M1770.7,909.9 L1769.5,902.5 M1776.8,915.7 L1774.6,908.8 M1772.9,912.3 L1773,919.9 M1777,918.3 L1774.8,924.5 M1771.5,915.9 L1766,917.9 M1774.4,910.3 L1772.5,912.8 M1772.1,906.8 L1772,913.7 M1742.5,903.2 L1750.2,901.5 M1785,915.4 L1785.7,920.7 M1755.4,900 L1758.3,905.4 M1789.7,922 L1787,927.2 M1760.8,909.1 L1759.1,912.5 M1754.3,902.5 L1746.8,905.9 M1783.8,914 L1786.8,911.3 M1757.7,898.9 L1758.9,904.2 M1787.1,926.5 L1794.3,923 M1783.5,927 L1779.2,928.3 M1772.2,913.6 L1773.3,909.3 M1755.8,901 L1758.9,897.3 M1766.8,906 L1761.1,907.9 M1771.4,908.7 L1770.6,901.6 M1774.2,912.5 L1779.2,910 M1783.3,923.5 L1783.4,919.3 M1745.5,899.1 L1746.1,893.9 M1782.4,919.8 L1781.8,915.7 M1771.7,907.2 L1768.4,902 M1753.8,898.2 L1760.6,898.4 M1774.9,913.7 L1774.3,905.9 M1776.9,914.4 L1773.8,917.1 M1752.5,904 L1750.6,895.4 M1778.8,910.6 L1783.1,907.5 M1784.3,924.4 L1781.8,927.5 M1777.3,912.8 L1777.8,908.2 M1771.8,914.1 L1765.1,918 M1779,920.1 L1774.4,921.1 M1766.9,916.5 L1767,920.8 M1761.9,912.8 L1767.6,908 M1770.1,906.1 L1766.6,911.3 M1770.5,919.5 L1777.9,917.8 M1749.7,898.6 L1757.9,895.8 M1753.2,903.2 L1758.3,898.4 M1790.9,919.8 L1793.3,917.6 M1751.9,906.8 L1747.8,909.1 M1747.2,897.9 L1749,906 M1748.9,895.5 L1747.5,890.8 M1774.9,915.6 L1780.5,912.8 M1788.7,918.2 L1789.8,913.8 M1758,905.2 L1761.2,903 M1746.3,905.5 L1745,910.5 M1788.7,921 L1782.7,920.8 M1770,909.7 L1761.7,912.3 M1768.3,906 L1762.9,907.6 M1770.9,919.3 L1771.2,914.5 M1785.8,922.4 L1784.3,918.1 M1750.1,894 L1751.8,887.6 M1768.8,914.7 L1772.5,913.3 M1790.2,917.7 L1796.4,915.3 M1760.4,909.2 L1757.2,915 M1788.1,916.1 L1784.3,921.9 " fill="none" stroke="#000" stroke-width="1.1"/>
<path d="M1858.3,963.8 L1859,970.2 M1875.8,977.1 L1875.7,973.1 M1830.9,955.7 L1831.2,963.9 M1861,964.6 L1862.5,960.9 M1865.4,971.3 L1872.1,971.2 M1887,982.9 L1881.7,983.3 M1886.8,978.3 L1887,973.4 M1856.6,962.9 L1861.7,962.3 M1828.5,943.7 L1826.2,947.6 M1875.4,976.9 L1874.2,970.4 M1858.3,963 L1858.6,969.3 M1824.3,940.5 L1826.7,934.7 M1847.7,955 L1846.3,949.7 M1824.2,944.7 L1829.3,943.5 M1873.4,973.2 L1866.2,974 M1869.5,968.8 L1866.9,972.1 M1859.4,963.9 L1859.9,956.7 M1851.8,967.1 L1849.8,960.1 M1851.9,960.6 L1850.6,965 M1855.5,963.1 L1858.6,968.9 M1849.1,952.8 L1845.8,947.7 M1824.4,939.7 L1826.6,935.5 M1849.8,959 L1849.7,964.6 M1881.1,980.8 L1887.6,979.2 M1828.2,943.7 L1832.3,939.9 M1857.1,968.9 L1864.3,967.5 M1845.4,962.6 L1843.6,954.9 M1881.8,982.2 L1883,975 M1867.5,964.9 L1866.9,958.5 M1843.9,950.5 L1837.9,951.2 M1887.5,987.2 L1891.9,984.3 M1854.7,961.6 L1855,955.4 M1841.5,957.1 L1840,962.4 M1878.3,981.7 L1874.7,986 M1824.5,939 L1825.2,943.9 M1863.5,964.7 L1866.4,959.7 M1835.1,950.7 L1837.1,946.9 M1848.7,959 L1853.3,956.1 M1875.7,973.4 L1883.9,971 M1871.8,966.2 L1869.9,957.8 M1840.7,952.1 L1841.4,945.7 M1831.1,944.4 L1837.2,944.2 M1830,952.1 L1827.3,958.5 M1845,964.1 L1838.7,967.9 M1878.1,977.3 L1883.4,974.5 M1887.7,979.2 L1884.5,973.9 M1855.1,968.2 L1853.9,962.4 M1826.2,947.9 L1824.5,939.6 M1884,979.7 L1882.7,983.9 M1843.3,951.1 L1847.6,946.1 M1866.1,976.4 L1871.3,975.2 M1840.4,955.4 L1837.3,959.1 M1823.7,951.3 L1826.2,948.6 M1886.3,985.1 L1879.4,986.2 M1820.1,940.2 L1813.3,944.1 M1863.6,965.8 L1860.6,960 M1860.3,964.9 L1854.7,966.6 M1843.8,960.2 L1850.2,958.3 M1825.6,951.6 L1823.1,956.2 M1882.4,977.1 L1880,972 M1821.6,947 L1821.1,951.5 M1882.8,976.6 L1887.2,971.6 M1858,957.6 L1861.7,955.7 M1821.4,945.7 L1822.7,940.9 M1832.2,947.8 L1832.6,955.9 M1857.5,958.2 L1857.9,965.6 M1837.8,959.1 L1836.2,965 M1891.1,978.8 L1892.6,983.9 M1835.1,947.8 L1836.9,942.7 M1859.3,958.6 L1853.2,958.4 M1869.8,978.4 L1863.1,978.4 M1846.5,960.4 L1849.8,956 M1819.7,940.9 L1812.5,942.2 M1862.1,966.9 L1854.8,969.3 M1836.9,947.9 L1830.2,949.5 M1856.6,958.6 L1857.1,962.7 M1873.6,978.1 L1878.8,975.1 M1847,958.5 L1851,954.1 M1863.3,968.2 L1863.4,972.5 M1844.2,961.9 L1842.3,955.8 M1835.3,956.7 L1832.1,950.8 M1861,965.7 L1867.1,961.6 M1839.3,956.4 L1836.5,958.7 M1851.6,957.7 L1855.1,955.4 M1854.4,969.2 L1853.3,974.5 M1836,958.4 L1836.1,962.3 M1887.6,981.9 L1892.7,979.8 M1882.1,981.7 L1888.3,981.4 M1846.6,960.5 L1852.1,956.3 M1824.5,939.2 L1820.4,941.8 M1869.6,975.1 L1868.6,969.4 M1888,978.1 L1890,983.2 M1858.7,967.8 L1860.4,975.9 M1888.8,982.8 L1892.7,978.2 M1823.8,947.3 L1823.1,941.5 M1817.9,937 L1813.1,938.3 M1839.5,955.3 L1836.3,957.5 M1814.3,942.1 L1820.6,940.1 M1817.3,944.4 L1815.6,938 M1878.3,975.3 L1880.7,980.3 M1821.3,941.8 L1823.1,946.5 M1855.9,964.5 L1857.2,972.8 M1869.3,976.2 L1861.2,978.8 M1889,984.3 L1889.8,978.1 M1864.6,967.7 L1862.4,970.8 M1836.1,955.7 L1834.4,947.1 M1855,964.8 L1849.2,968.7 M1845.2,952.4 L1842.8,958 M1880.4,970.7 L1880.2,966.5 M1875.5,967.9 L1870.5,970.5 M1815.2,942.7 L1812,946.3 M1867.5,966.6 L1867.4,970.5 M1866.5,965.7 L1868.7,961.3 M1873.4,971.3 L1878,968.1 M1861.1,963.4 L1861.9,967.4 M1840.6,957.9 L1839,962.6 M1857.3,961.7 L1860,959 M1872.2,966.1 L1869.1,971.1 M1845.2,955.7 L1846.8,963.7 M1878.8,976.5 L1886.4,973.3 M1848.6,966.2 L1856.7,964 M1868.8,967.1 L1865,971.3 M1869.7,966.9 L1866.5,970.3 M1831.1,952.2 L1830.1,958.9 M1869.7,975.8 L1875.2,971.9 M1869.6,971.6 L1868.8,978.3 M1862.6,967.9 L1868.3,965 M1864.3,974.1 L1864.8,981.8 M1880.9,979 L1880.8,986.6 M1833.8,949.3 L1831.5,953.7 M1824.7,939.2 L1819.5,942.9 M1865.9,972.9 L1866.9,967.6 M1880.9,979.8 L1886.1,975.5 M1882.7,982.5 L1879.4,986 M1864,961.2 L1861.1,965.6 M1822.6,938.2 L1816.3,941 M1882.8,972.4 L1889.8,969.8 M1867.2,963.5 L1868.6,958.9 M1853.6,965.7 L1852,970.8 M1850.9,958.1 L1854.5,963.8 M1837.9,950.9 L1831.9,955.5 M1843.5,955.8 L1837.6,957.6 M1858.7,960.3 L1862.9,959.4 M1839.7,959.7 L1843.3,957.8 M1868.1,963.9 L1865.5,969.3 M1859,958.9 L1863.7,956.9 M1835.1,958.5 L1839.8,957.6 M1877.7,978.1 L1877.7,984.9 M1865.6,970.1 L1862.8,964 M1851.7,963.3 L1849.2,957 M1840.1,954.3 L1847.7,951.4 M1840.5,960.3 L1834.6,963 M1875.1,978.8 L1870.6,981.3 M1843.1,950.2 L1836.5,953.8 M1868.2,965.8 L1865.5,971.7 M1864,965.8 L1866.8,963.2 M1869.2,966.2 L1867.4,961.9 M1817.4,945.4 L1815.4,950.2 M1850.5,966.5 L1849.2,971.8 M1872.1,979.5 L1869.4,973.3 M1888.9,977.2 L1891.4,972.2 M1888.9,981 L1886.5,973.6 " fill="none" stroke="#000" stroke-width="1.1"/>
<path d="M2143.2,1126.3 L2140,1132.2 M2149.6,1124.5 L2155.1,1122 M2134,1117.4 L2137.6,1115.8 M2128.3,1124 L2132.8,1118.7 M2137.7,1115.4 L2132,1117.9 M2140.2,1117 L2141.4,1123.1 M2144.7,1128.4 L2146.7,1123.8 M2135.3,1128.2 L2140.9,1123.3 M2141.1,1120.4 L2141.9,1125.5 M2139.9,1128.6 L2145.7,1126.8 M2131.8,1114.8 L2133.6,1123.4 M2144.6,1120.1 L2144.9,1114 M2133.7,1117.6 L2133,1109.4 M2139.9,1117.8 L2138,1113.3 M2147.1,1126.9 L2145,1121.6 M2151.7,1124.7 L2147,1127.4 M2157.2,1137.8 L2156.2,1132.6 M2139.6,1128.6 L2142,1136.3 M2137.9,1119 L2132.8,1123 M2134.7,1114.8 L2133.2,1119.9 M2141.4,1123.8 L2138.9,1130.2 M2158,1129.3 L2163,1128.1 M2139.4,1118.8 L2139.2,1111.9 M2156.1,1138.3 L2149.4,1140.6 M2128.3,1123.7 L2127.6,1119 M2154.1,1133.1 L2154.4,1137.9 M2133.8,1116.2 L2137.5,1112.4 M2135.8,1127.3 L2131.6,1129.2 M2146.1,1120.8 L2145.1,1124.3 M2134.8,1118.7 L2139.7,1114 M2150.2,1130.7 L2143.5,1130.8 M2156.1,1135.7 L2154.1,1142.4 M2143,1128.7 L2140.6,1122.6 M2144.9,1129.9 L2150.3,1125.4 M2151.2,1136 L2157.5,1134.7 M2156.6,1131.9 L2160.4,1127 M2149.5,1127.3 L2147.7,1120.3 M2146.1,1134.3 L2148.2,1128 M2151.5,1131.4 L2149.5,1124.9 M2155.4,1125.6 L2150,1128.6 M2151,1129.8 L2151.1,1123.7 M2131.6,1116 L2125.3,1119 M2156.2,1135.2 L2156.7,1130.1 M2151.8,1126 L2158.4,1124.5 M2157.1,1131.7 L2150.7,1134.1 M2142.8,1130.1 L2150.6,1127.3 M2140.4,1119.1 L2135.1,1121.5 M2141.6,1126.4 L2142.8,1132.7 M2159.8,1134.2 L2162.1,1139.1 M2129.9,1121 L2130.4,1127.2 M2132.8,1114.3 L2134,1120.4 M2139.4,1118.1 L2140.3,1115.2 M2147.9,1130.4 L2152.9,1126.1 M2136.1,1121.1 L2134.1,1124 M2153.4,1126.6 L2153.5,1131.2 M2144.9,1128.1 L2145,1135 M2159.8,1128.9 L2159.2,1120.8 M2142.8,1127.1 L2140.3,1133.3 M2154.5,1136.2 L2152.8,1143 M2134.8,1123.9 L2140.1,1119.8 M2133.9,1126 L2137.7,1120.2 M2154.8,1129.5 L2156.5,1122.8 M2132.9,1118.8 L2135.2,1114.2 M2128.9,1121.9 L2127,1117.3 M2138.3,1126.9 L2136.8,1129.9 M2149.6,1134 L2152.3,1129 M2161,1129.6 L2160.7,1125.1 " fill="none" stroke="#000" stroke-width="1.1"/>
<polyline points="1808,492 1816,495" fill="none" stroke="#000" stroke-width="2.5"/>
<polyline points="1888,539 1896,542" fill="none" stroke="#000" stroke-width="2.5"/>
<polyline points="1972,587 1980,590" fill="none" stroke="#000" stroke-width="2.5"/>
<polyline points="2054,633 2062,636" fill="none" stroke="#000" stroke-width="2.5"/>
<polyline points="2134,681 2142,684" fill="none" stroke="#000" stroke-width="2.5"/>
<polyline points="2178,846 2186,842" fill="none" stroke="#000" stroke-width="2.2"/>
<polyline points="2178,986 2186,982" fill="none" stroke="#000" stroke-width="2.2"/>
<path d="M 2124,728 L 2113,735 Q 2110,741 2114,746 L 2120,747 L 2130,743 Z" fill="#fff" stroke="#000" stroke-width="2.6" stroke-linejoin="round"/>
<ellipse cx="2114.5" cy="741" rx="3" ry="5" fill="#fff" stroke="#000" stroke-width="1.6" transform="rotate(-15 2114.5 741)"/>
<ellipse cx="2132.7" cy="735" rx="10.5" ry="13.7" fill="#fff" stroke="#000" stroke-width="3.6" transform="rotate(-12 2132.7 735)"/>
<ellipse cx="2131" cy="735.5" rx="6" ry="9" fill="none" stroke="#000" stroke-width="1.3" transform="rotate(-12 2131 735.5)"/>
<path d="M 2270,1043 L 2254,1052 Q 2247,1060 2249,1068 Q 2256,1072 2262,1069 L 2278,1063 Z" fill="#fff" stroke="#000" stroke-width="3" stroke-linejoin="round"/>
<polyline points="2253,1055.5 2255.5,1068.5" fill="none" stroke="#000" stroke-width="1.5"/>
<polyline points="2256.4,1053.8 2258.9,1067" fill="none" stroke="#000" stroke-width="1.5"/>
<polyline points="2259.8,1052.1 2262.3,1065.5" fill="none" stroke="#000" stroke-width="1.5"/>
<polyline points="2263.2,1050.4 2265.7,1064" fill="none" stroke="#000" stroke-width="1.5"/>
<polyline points="2266.6,1048.7 2269.1,1062.5" fill="none" stroke="#000" stroke-width="1.5"/>
<polyline points="2270,1047 2272.5,1061" fill="none" stroke="#000" stroke-width="1.5"/>
<ellipse cx="2277.5" cy="1053" rx="12" ry="17" fill="#fff" stroke="#000" stroke-width="4.2" transform="rotate(-15 2277.5 1053)"/>
<ellipse cx="2276" cy="1053" rx="7.5" ry="11" fill="#fff" stroke="#000" stroke-width="1.5" transform="rotate(-15 2276 1053)"/>
<ellipse cx="2274" cy="1054" rx="4" ry="6" fill="#fff" stroke="#000" stroke-width="1.3" transform="rotate(-15 2274 1054)"/>
<path d="M 1457.6,499.6 L 1467.4,480.3 L 1468.5,469 L 1480.3,461.7 L 1494.8,466.6 L 1501.2,477 L 1561,513.9 L 1566,508.8 L 1612,535.6 L 1617,546.5 L 1673,579.2 L 1678,574.1 L 1704,589.2 L 1709,600.1 L 1753,625.8 L 1758,620.7 L 1778,632.4 L 1783,643.3 L 1855,685.3 L 1860,680.2 L 1906,707 L 1911,717.9 L 2003,771.5 L 2008,767.5 L 2014,766.5 L 2022,768.5 L 2028,774 L 2030.8,783 L 2030.8,1322 L 2021,1331 L 2000,1327.5 L 1970,1312.6 L 1958,1303 L 1951,1304.5 L 1929,1289 L 1925.5,1278.5 L 1911.8,1270.5 L 1762.3,1185.5 L 1757,1188 L 1748,1192 L 1722,1177 L 1718,1166 L 1712,1156 L 1570,1076 L 1562,1082 L 1520,1058 L 1514,1045 L 1466,1017.8 L 1457.6,1008 Z M 1593.5,668.4 Q 1593.5,632.4 1629.5,653.2 L 1920,820.8 Q 1956,841.6 1956,877.6 L 1956,1095 Q 1956,1131 1920,1110.2 L 1629.5,942.6 Q 1593.5,921.8 1593.5,885.8 Z" fill="#fff" stroke="#000" stroke-width="4" fill-rule="evenodd" stroke-linejoin="round"/>
<polyline points="1483.4,470 1483.4,1020" fill="none" stroke="#000" stroke-width="1.3"/>
<polyline points="1463,500 1463,1008" fill="none" stroke="#000" stroke-width="1.3"/>
<polyline points="1500,487.3 2003,780.5" fill="none" stroke="#000" stroke-width="3.2"/>
<polyline points="1504,485.6 2000,774.8" fill="none" stroke="#000" stroke-width="1.3"/>
<polyline points="1508,497 1998,782.6" fill="none" stroke="#000" stroke-width="1.3"/>
<polyline points="1478,468 1478,1016" fill="none" stroke="#000" stroke-width="1.3"/>
<polyline points="2010.7,812 2010.7,1322" fill="none" stroke="#000" stroke-width="1.3"/>
<path d="M 2006,776 Q 2020,778 2016,795 Q 2014,803 2010,808" fill="none" stroke="#000" stroke-width="2"/>
<polyline points="2000.1,800 2000.1,1300" fill="none" stroke="#000" stroke-width="1.3" stroke-dasharray="40 6"/>
<polyline points="2023,790 2023,1325" fill="none" stroke="#000" stroke-width="1.3"/>
<polyline points="2008,1247 2017,1253 2018,1320" fill="none" stroke="#000" stroke-width="3"/>
<polyline points="1770,1186 1905,1260" fill="none" stroke="#000" stroke-width="1.3"/>
<path d="M 1589.5,666 Q 1589.5,626 1629.5,649.1 L 1923,818.4 Q 1963,841.5 1963,881.5 L 1963,1101.5 Q 1963,1141.5 1923,1118.4 L 1629.5,949.1 Q 1589.5,926 1589.5,886 Z" fill="none" stroke="#000" stroke-width="1.3"/>
<path d="M 1586,662 Q 1586,616 1632,642.5 L 1925,811.6 Q 1971,838.1 1971,884.1 L 1971,1108.1 Q 1971,1154.1 1925,1127.6 L 1632,958.5 Q 1586,932 1586,886 Z" fill="none" stroke="#000" stroke-width="1.3"/>
<path d="M 1582.5,658 Q 1582.5,604 1636.5,635.2 L 1926,802.2 Q 1980,833.4 1980,887.4 L 1980,1115.4 Q 1980,1169.4 1926,1138.2 L 1636.5,971.2 Q 1582.5,940 1582.5,886 Z" fill="none" stroke="#000" stroke-width="1.3" stroke-dasharray="60 5"/>
<path d="M 1496,1035 L 1496,556 Q 1497,528 1520,523 L 1560,545" fill="none" stroke="#000" stroke-width="1.3"/>
<path d="M 1502,1040 L 1502,560 Q 1503,536 1522,531 L 1556,550" fill="none" stroke="#000" stroke-width="1.3"/>
<path d="M 1509,1042 L 1509,564 Q 1510,544 1525,540 L 1552,556" fill="none" stroke="#000" stroke-width="1.3"/>
<path d="M 1522,1050 L 1522,565 Q 1524,545 1541,545 L 1990,804" fill="none" stroke="#000" stroke-width="1.3"/>
<path d="M 1532,1056 L 1532,575 Q 1534,556 1548,556 L 1985,809" fill="none" stroke="#000" stroke-width="1.3" stroke-dasharray="50 6"/>
<path d="M 1545,1060 L 1545,590 Q 1547,570 1560,571 L 1980,814" fill="none" stroke="#000" stroke-width="1.3"/>
<path d="M 1557,1068 L 1557,600" fill="none" stroke="#000" stroke-width="1.3" stroke-dasharray="30 5"/>
<polyline points="1600,937.5 1985,1159.1" fill="none" stroke="#000" stroke-width="1.3"/>
<polyline points="1605,950.4 1990,1172" fill="none" stroke="#000" stroke-width="1.3" stroke-dasharray="70 6 20 6"/>
<polyline points="1612,965.4 1995,1185.9" fill="none" stroke="#000" stroke-width="2.4"/>
<polyline points="1640,994.5 1990,1196" fill="none" stroke="#000" stroke-width="1.3" stroke-dasharray="70 6 20 6"/>
<polyline points="1645,1009.4 1985,1205.1" fill="none" stroke="#000" stroke-width="1.3"/>
<polyline points="1650,1026.3 1990,1222" fill="none" stroke="#000" stroke-width="1.3" stroke-dasharray="70 6 20 6"/>
<polyline points="1655,1043.2 1980,1230.2" fill="none" stroke="#000" stroke-width="1.3"/>
<polyline points="1640,1048.5 1990,1250" fill="none" stroke="#000" stroke-width="1.3" stroke-dasharray="70 6 20 6"/>
<polyline points="1635,1057.7 1985,1259.1" fill="none" stroke="#000" stroke-width="2.4"/>
<polyline points="1630,1066.8 1995,1276.9" fill="none" stroke="#000" stroke-width="1.3" stroke-dasharray="70 6 20 6"/>
<polyline points="1640,1086.5 2000,1293.8" fill="none" stroke="#000" stroke-width="1.3"/>
<path d="M 1457,589 L 1484,575 L 1484,597 L 1457,613 Z" fill="#fff" stroke="#000" stroke-width="1.6"/>
<ellipse cx="1465" cy="595" rx="1.5" ry="2" fill="none" stroke="#000" stroke-width="1.2"/>
<polyline points="1455,583 1455,617" fill="none" stroke="#000" stroke-width="3"/>
<path d="M 1457,730 L 1484,716 L 1484,738 L 1457,754 Z" fill="#fff" stroke="#000" stroke-width="1.6"/>
<ellipse cx="1465" cy="736" rx="1.5" ry="2" fill="none" stroke="#000" stroke-width="1.2"/>
<polyline points="1455,724 1455,758" fill="none" stroke="#000" stroke-width="3"/>
<path d="M 2009,897 L 2031,885 L 2031,907 L 2009,921 Z" fill="#fff" stroke="#000" stroke-width="1.6"/>
<ellipse cx="2017" cy="905" rx="1.5" ry="2" fill="none" stroke="#000" stroke-width="1.2"/>
<path d="M 2009,1038 L 2031,1026 L 2031,1048 L 2009,1062 Z" fill="#fff" stroke="#000" stroke-width="1.6"/>
<ellipse cx="2017" cy="1046" rx="1.5" ry="2" fill="none" stroke="#000" stroke-width="1.2"/>
<path d="M 1616.5,638 l 35.6,-21.8 l 0,-10.2 l 13.2,6.6 l 0,29.6 l -33.8,18.8 l -15,-5.4 Z" fill="#fff" stroke="none" stroke-width="0"/>
<path d="M 1616.5,638 l 15,5.4 l 0,17.5 l -15,-5.4 Z" fill="#fff" stroke="#000" stroke-width="1.8" stroke-linejoin="round"/>
<path d="M 1616.5,638 l 35.6,-21.8 l 13.2,8 l -33.8,19.2" fill="none" stroke="#000" stroke-width="1.5"/>
<path d="M 1631.5,660.9 l 33.8,-18.8" fill="none" stroke="#000" stroke-width="2.6"/>
<path d="M 1652.1,616.2 l 0,-10.2 l 13.2,6.6 l 0,11.6" fill="none" stroke="#000" stroke-width="1.3"/>
<path d="M 1652.1,633.8 l 13.2,7.2 l 0,12.2 M 1658.5,637 l 0,12" fill="none" stroke="#000" stroke-width="1.3"/>
<ellipse cx="1624" cy="649.5" rx="2.6" ry="3.4" fill="none" stroke="#000" stroke-width="1.3"/>
<ellipse cx="1624" cy="649.5" rx="1" ry="1.4" fill="none" stroke="#000" stroke-width="1"/>
<path d="M 1527.2,767.8 l 35.6,-21.8 l 0,-10.2 l 13.2,6.6 l 0,29.6 l -33.8,18.8 l -15,-5.4 Z" fill="#fff" stroke="none" stroke-width="0"/>
<path d="M 1527.2,767.8 l 15,5.4 l 0,17.5 l -15,-5.4 Z" fill="#fff" stroke="#000" stroke-width="1.8" stroke-linejoin="round"/>
<path d="M 1527.2,767.8 l 35.6,-21.8 l 13.2,8 l -33.8,19.2" fill="none" stroke="#000" stroke-width="1.5"/>
<path d="M 1542.2,790.7 l 33.8,-18.8" fill="none" stroke="#000" stroke-width="2.6"/>
<path d="M 1562.8,746 l 0,-10.2 l 13.2,6.6 l 0,11.6" fill="none" stroke="#000" stroke-width="1.3"/>
<path d="M 1562.8,763.6 l 13.2,7.2 l 0,12.2 M 1569.2,766.8 l 0,12" fill="none" stroke="#000" stroke-width="1.3"/>
<ellipse cx="1534.7" cy="779.3" rx="2.6" ry="3.4" fill="none" stroke="#000" stroke-width="1.3"/>
<ellipse cx="1534.7" cy="779.3" rx="1" ry="1.4" fill="none" stroke="#000" stroke-width="1"/>
<path d="M 1862,778 l 35.6,-21.8 l 0,-10.2 l 13.2,6.6 l 0,29.6 l -33.8,18.8 l -15,-5.4 Z" fill="#fff" stroke="none" stroke-width="0"/>
<path d="M 1862,778 l 15,5.4 l 0,17.5 l -15,-5.4 Z" fill="#fff" stroke="#000" stroke-width="1.8" stroke-linejoin="round"/>
<path d="M 1862,778 l 35.6,-21.8 l 13.2,8 l -33.8,19.2" fill="none" stroke="#000" stroke-width="1.5"/>
<path d="M 1877,800.9 l 33.8,-18.8" fill="none" stroke="#000" stroke-width="2.6"/>
<path d="M 1897.6,756.2 l 0,-10.2 l 13.2,6.6 l 0,11.6" fill="none" stroke="#000" stroke-width="1.3"/>
<path d="M 1897.6,773.8 l 13.2,7.2 l 0,12.2 M 1904,777 l 0,12" fill="none" stroke="#000" stroke-width="1.3"/>
<ellipse cx="1869.5" cy="789.5" rx="2.6" ry="3.4" fill="none" stroke="#000" stroke-width="1.3"/>
<ellipse cx="1869.5" cy="789.5" rx="1" ry="1.4" fill="none" stroke="#000" stroke-width="1"/>
<path d="M 1946.6,1007 l 35.6,-21.8 l 0,-10.2 l 13.2,6.6 l 0,29.6 l -33.8,18.8 l -15,-5.4 Z" fill="#fff" stroke="none" stroke-width="0"/>
<path d="M 1946.6,1007 l 15,5.4 l 0,17.5 l -15,-5.4 Z" fill="#fff" stroke="#000" stroke-width="1.8" stroke-linejoin="round"/>
<path d="M 1946.6,1007 l 35.6,-21.8 l 13.2,8 l -33.8,19.2" fill="none" stroke="#000" stroke-width="1.5"/>
<path d="M 1961.6,1029.9 l 33.8,-18.8" fill="none" stroke="#000" stroke-width="2.6"/>
<path d="M 1982.2,985.2 l 0,-10.2 l 13.2,6.6 l 0,11.6" fill="none" stroke="#000" stroke-width="1.3"/>
<path d="M 1982.2,1002.8 l 13.2,7.2 l 0,12.2 M 1988.6,1006 l 0,12" fill="none" stroke="#000" stroke-width="1.3"/>
<ellipse cx="1954.1" cy="1018.5" rx="2.6" ry="3.4" fill="none" stroke="#000" stroke-width="1.3"/>
<ellipse cx="1954.1" cy="1018.5" rx="1" ry="1.4" fill="none" stroke="#000" stroke-width="1"/>
<path d="M 1862,1139 l 35.6,-21.8 l 0,-10.2 l 13.2,6.6 l 0,29.6 l -33.8,18.8 l -15,-5.4 Z" fill="#fff" stroke="none" stroke-width="0"/>
<path d="M 1862,1139 l 15,5.4 l 0,17.5 l -15,-5.4 Z" fill="#fff" stroke="#000" stroke-width="1.8" stroke-linejoin="round"/>
<path d="M 1862,1139 l 35.6,-21.8 l 13.2,8 l -33.8,19.2" fill="none" stroke="#000" stroke-width="1.5"/>
<path d="M 1877,1161.9 l 33.8,-18.8" fill="none" stroke="#000" stroke-width="2.6"/>
<path d="M 1897.6,1117.2 l 0,-10.2 l 13.2,6.6 l 0,11.6" fill="none" stroke="#000" stroke-width="1.3"/>
<path d="M 1897.6,1134.8 l 13.2,7.2 l 0,12.2 M 1904,1138 l 0,12" fill="none" stroke="#000" stroke-width="1.3"/>
<ellipse cx="1869.5" cy="1150.5" rx="2.6" ry="3.4" fill="none" stroke="#000" stroke-width="1.3"/>
<ellipse cx="1869.5" cy="1150.5" rx="1" ry="1.4" fill="none" stroke="#000" stroke-width="1"/>
<path d="M 1616.5,999 l 35.6,-21.8 l 0,-10.2 l 13.2,6.6 l 0,29.6 l -33.8,18.8 l -15,-5.4 Z" fill="#fff" stroke="none" stroke-width="0"/>
<path d="M 1616.5,999 l 15,5.4 l 0,17.5 l -15,-5.4 Z" fill="#fff" stroke="#000" stroke-width="1.8" stroke-linejoin="round"/>
<path d="M 1616.5,999 l 35.6,-21.8 l 13.2,8 l -33.8,19.2" fill="none" stroke="#000" stroke-width="1.5"/>
<path d="M 1631.5,1021.9 l 33.8,-18.8" fill="none" stroke="#000" stroke-width="2.6"/>
<path d="M 1652.1,977.2 l 0,-10.2 l 13.2,6.6 l 0,11.6" fill="none" stroke="#000" stroke-width="1.3"/>
<path d="M 1652.1,994.8 l 13.2,7.2 l 0,12.2 M 1658.5,998 l 0,12" fill="none" stroke="#000" stroke-width="1.3"/>
<ellipse cx="1624" cy="1010.5" rx="2.6" ry="3.4" fill="none" stroke="#000" stroke-width="1.3"/>
<ellipse cx="1624" cy="1010.5" rx="1" ry="1.4" fill="none" stroke="#000" stroke-width="1"/>
<path d="M 1660,1056 l 18,11" fill="none" stroke="#000" stroke-width="4.5" stroke-linecap="round"/>
<path d="M 1842,1160 l 18,11" fill="none" stroke="#000" stroke-width="4.5" stroke-linecap="round"/>
<path d="M 1692,1078 l 36,4 l -8,28 Z M 1700,1082 l 4,26" fill="none" stroke="#000" stroke-width="1.3"/>
<path d="M 1794,1132 l 38,26 l -10,6 l -30,-6 Z M 1815,1146 l 12,20" fill="none" stroke="#000" stroke-width="1.3"/>
<ellipse cx="1558" cy="545" rx="1.6" ry="2.2" fill="none" stroke="#000" stroke-width="1.1"/>
<ellipse cx="1640" cy="610" rx="1.6" ry="2.2" fill="none" stroke="#000" stroke-width="1.1"/>
<ellipse cx="1722" cy="642" rx="1.6" ry="2.2" fill="none" stroke="#000" stroke-width="1.1"/>
<ellipse cx="1803" cy="690" rx="1.6" ry="2.2" fill="none" stroke="#000" stroke-width="1.1"/>
<ellipse cx="1885" cy="735" rx="1.6" ry="2.2" fill="none" stroke="#000" stroke-width="1.1"/>
<ellipse cx="1965" cy="782" rx="1.6" ry="2.2" fill="none" stroke="#000" stroke-width="1.1"/>
<ellipse cx="1515" cy="573" rx="1.6" ry="2.2" fill="none" stroke="#000" stroke-width="1.1"/>
<ellipse cx="1515" cy="660" rx="1.6" ry="2.2" fill="none" stroke="#000" stroke-width="1.1"/>
<ellipse cx="1515" cy="748" rx="1.6" ry="2.2" fill="none" stroke="#000" stroke-width="1.1"/>
<ellipse cx="1515" cy="835" rx="1.6" ry="2.2" fill="none" stroke="#000" stroke-width="1.1"/>
<ellipse cx="2007" cy="860" rx="1.6" ry="2.2" fill="none" stroke="#000" stroke-width="1.1"/>
<ellipse cx="2007" cy="1000" rx="1.6" ry="2.2" fill="none" stroke="#000" stroke-width="1.1"/>
<ellipse cx="2007" cy="1118" rx="1.6" ry="2.2" fill="none" stroke="#000" stroke-width="1.1"/>
<ellipse cx="1888" cy="1188" rx="1.6" ry="2.2" fill="none" stroke="#000" stroke-width="1.1"/>
<ellipse cx="1750" cy="1170" rx="1.6" ry="2.2" fill="none" stroke="#000" stroke-width="1.1"/>
<ellipse cx="2012" cy="1282" rx="1.6" ry="2.2" fill="none" stroke="#000" stroke-width="1.1"/>
<ellipse cx="2000" cy="1327" rx="1.6" ry="2.2" fill="none" stroke="#000" stroke-width="1.1"/>
<clipPath id="w338"><path d="M 1232,800 L 1596,1010 L 1596,1300 L 1232,1090 Z"/></clipPath>
<path d="M 1232,800 L 1596,1010 L 1596,1300 L 1232,1090 Z" fill="#fff" stroke="none" stroke-width="0"/>
<g clip-path="url(#w338)">
<path d="M 1457.6,499.6 L 1467.4,480.3 L 1468.5,469 L 1480.3,461.7 L 1494.8,466.6 L 1501.2,477 L 1561,513.9 L 1566,508.8 L 1612,535.6 L 1617,546.5 L 1673,579.2 L 1678,574.1 L 1704,589.2 L 1709,600.1 L 1753,625.8 L 1758,620.7 L 1778,632.4 L 1783,643.3 L 1855,685.3 L 1860,680.2 L 1906,707 L 1911,717.9 L 2003,771.5 L 2008,767.5 L 2014,766.5 L 2022,768.5 L 2028,774 L 2030.8,783 L 2030.8,1322 L 2021,1331 L 2000,1327.5 L 1970,1312.6 L 1958,1303 L 1951,1304.5 L 1929,1289 L 1925.5,1278.5 L 1911.8,1270.5 L 1762.3,1185.5 L 1757,1188 L 1748,1192 L 1722,1177 L 1718,1166 L 1712,1156 L 1570,1076 L 1562,1082 L 1520,1058 L 1514,1045 L 1466,1017.8 L 1457.6,1008 Z " fill="none" stroke="#000" stroke-width="4" stroke-linejoin="round"/>
<polyline points="1463,900 1463,1012" fill="none" stroke="#000" stroke-width="1.3"/>
<polyline points="1483.4,900 1483.4,1024" fill="none" stroke="#000" stroke-width="1.3"/>
<polyline points="1496,930 1496,1030" fill="none" stroke="#000" stroke-width="5"/>
<polyline points="1509,940 1509,1040" fill="none" stroke="#000" stroke-width="1.3"/>
<ellipse cx="1541" cy="1050" rx="1.6" ry="2.2" fill="none" stroke="#000" stroke-width="1.1"/>
<polyline points="1520,1046 1562,1070" fill="none" stroke="#000" stroke-width="1.3"/>
</g>
<path d="M 1654,1186 L 1658,1180 L 1664,1179 L 1698,1198 L 1700,1194 L 1704,1196 L 1705,1204 L 1700,1208 L 1702,1218 L 1696,1224 L 1690,1222 L 1656,1203 Z" fill="#fff" stroke="#000" stroke-width="2.4" stroke-linejoin="round"/>
<polyline points="1658,1188 1694,1208 1694,1220" fill="none" stroke="#000" stroke-width="1.3"/>
<polyline points="1658,1195 1692,1214" fill="none" stroke="#000" stroke-width="1.3"/>
<polyline points="1694,1208 1700,1204" fill="none" stroke="#000" stroke-width="1.3"/>
<path d="M 1995.8,1463.8 l 1,-14 l 4,-10 l 4,10 l 1,14 Z" fill="#fff" stroke="#000" stroke-width="2.2" stroke-linejoin="round"/>
<polyline points="1995.8,1460.8 2005.8,1457.8" fill="none" stroke="#000" stroke-width="1.6"/>
<polyline points="1995.8,1456.3 2005.8,1453.3" fill="none" stroke="#000" stroke-width="1.6"/>
<polyline points="1995.8,1451.8 2005.8,1448.8" fill="none" stroke="#000" stroke-width="1.6"/>
<polyline points="1995.8,1447.3 2005.8,1444.3" fill="none" stroke="#000" stroke-width="1.6"/>
<ellipse cx="2000.8" cy="1467.8" rx="12" ry="7" fill="#fff" stroke="#000" stroke-width="2.8"/>
<ellipse cx="2000.8" cy="1465.8" rx="6.5" ry="3.4" fill="#fff" stroke="#000" stroke-width="1.3"/>
<path d="M 1739.3,1502.4 l 1,-14 l 4,-10 l 4,10 l 1,14 Z" fill="#fff" stroke="#000" stroke-width="2.2" stroke-linejoin="round"/>
<polyline points="1739.3,1499.4 1749.3,1496.4" fill="none" stroke="#000" stroke-width="1.6"/>
<polyline points="1739.3,1494.9 1749.3,1491.9" fill="none" stroke="#000" stroke-width="1.6"/>
<polyline points="1739.3,1490.4 1749.3,1487.4" fill="none" stroke="#000" stroke-width="1.6"/>
<polyline points="1739.3,1485.9 1749.3,1482.9" fill="none" stroke="#000" stroke-width="1.6"/>
<ellipse cx="1744.3" cy="1506.4" rx="12" ry="7" fill="#fff" stroke="#000" stroke-width="2.8"/>
<ellipse cx="1744.3" cy="1504.4" rx="6.5" ry="3.4" fill="#fff" stroke="#000" stroke-width="1.3"/>
<path d="M 1188.7,771 L 1192.2,766.7 L 1198.6,759.5 L 1208.3,762.7 L 1214.8,760.3 L 1215.6,750.6 L 1223.6,744.2 L 1622,974.5 L 1636,986 L 1636,1333 L 1622,1341 L 1616,1338 L 1604,1347 L 1590,1345 L 1196,1117 L 1188.7,1108 Z M 1232,800 L 1596,1010 L 1596,1300 L 1232,1090 Z" fill="#fff" stroke="#000" stroke-width="4" fill-rule="evenodd" stroke-linejoin="round"/>
<polyline points="1191.4,771 1191.4,1109" fill="none" stroke="#000" stroke-width="6"/>
<polyline points="1200.3,776 1200.3,1108" fill="none" stroke="#000" stroke-width="3"/>
<polyline points="1209.1,780 1209.1,1100" fill="none" stroke="#000" stroke-width="1.3" stroke-dasharray="22 5"/>
<polyline points="1226.8,790 1226.8,1092" fill="none" stroke="#000" stroke-width="1.3"/>
<polyline points="1230.5,796 1230.5,1092" fill="none" stroke="#000" stroke-width="3.2"/>
<polyline points="1222,749.3 1622,976.8" fill="none" stroke="#000" stroke-width="1.3"/>
<polyline points="1220,753.2 1622,981.8" fill="none" stroke="#000" stroke-width="2.4"/>
<polyline points="1218,758 1620,986.6" fill="none" stroke="#000" stroke-width="1.3" stroke-dasharray="90 4"/>
<polyline points="1216,763.9 1616,991.4" fill="none" stroke="#000" stroke-width="2.4"/>
<polyline points="1214,769.7 1612,996.1" fill="none" stroke="#000" stroke-width="1.3" stroke-dasharray="120 5 30 5"/>
<polyline points="1205,770.6 1608,999.8" fill="none" stroke="#000" stroke-width="2.4"/>
<polyline points="1200,772.8 1604,1002.5" fill="none" stroke="#000" stroke-width="1.3"/>
<polyline points="1228,795.7 1600,1007.3" fill="none" stroke="#000" stroke-width="7.5"/>
<polyline points="1597,1004 1597,1304" fill="none" stroke="#000" stroke-width="4.6"/>
<polyline points="1604.5,1008 1604.5,1344" fill="none" stroke="#000" stroke-width="3"/>
<polyline points="1611,1000 1611,1338" fill="none" stroke="#000" stroke-width="1.3" stroke-dasharray="30 5 8 5"/>
<polyline points="1618.3,990 1618.3,1338" fill="none" stroke="#000" stroke-width="1.3"/>
<polyline points="1624,985 1624,1340" fill="none" stroke="#000" stroke-width="1.3" stroke-dasharray="60 6"/>
<polyline points="1629,980 1629,1338" fill="none" stroke="#000" stroke-width="2.4"/>
<polyline points="1634.5,986 1634.5,1333" fill="none" stroke="#000" stroke-width="6"/>
<polyline points="1232,1090 1596,1300" fill="none" stroke="#000" stroke-width="4.4"/>
<polyline points="1225,1093 1596,1307" fill="none" stroke="#000" stroke-width="1.3"/>
<polyline points="1215,1094.2 1598,1315.2" fill="none" stroke="#000" stroke-width="1.3" stroke-dasharray="90 6 20 6"/>
<polyline points="1205,1095.4 1600,1323.3" fill="none" stroke="#000" stroke-width="2.4"/>
<polyline points="1200,1097.5 1602,1329.5" fill="none" stroke="#000" stroke-width="1.3"/>
<polyline points="1198,1101.4 1600,1333.3" fill="none" stroke="#000" stroke-width="3"/>
<path d="M 1196,1100 L 1204,1112 L 1232,1096" fill="none" stroke="#000" stroke-width="1.3"/>
<path d="M1277.6,912 L1283.2,924 M1288,909 L1298.5,932 M1321,893 L1333,920 M1290,1052 L1302,1078 M1308,1050 L1318,1072 M1500,1040 L1512,1068 M1522,1090 L1536,1122 M1518,1120 L1530,1146 M1540,1112 L1552,1136 M1560,1160 L1572,1186 M1500,960 L1512,986 M1516,990 L1530,1020 M1495,1010 L1506,1034" fill="none" stroke="#000" stroke-width="1.3"/>
<polygon points="1026.7,891.1 1026.7,810.6 1047.7,799.4 1512.4,1066 1512.4,1145 1491.5,1157.8" fill="#fff" stroke="#000" stroke-width="4" stroke-linejoin="round"/>
<polyline points="1026.7,810.6 1491.5,1078.9 1491.5,1157.8" fill="none" stroke="#000" stroke-width="1.3"/>
<polyline points="1491.5,1078.9 1512.4,1066" fill="none" stroke="#000" stroke-width="1.3"/>
<path d="M1079.5,882.2 l-7.6,1.8 M1085.3,886.7 l6.8,4.4 M1098.1,904.7 l6.5,2 M1041.5,880.4 l-3,4.3 M1135.1,930.1 l-4,7.7 M1048.5,831.6 l-0.5,5.3 M1052,848.3 l7.7,0.7 M1078.3,898.7 l-0.5,8.8 M1084.5,890.8 l0.9,6.6 M1136.8,932.3 l-8.1,4.4 M1065.1,854.5 l3.3,4.3 M1112.5,889.5 l-6.5,3.4 M1132.6,922.9 l6.3,0 M1127.6,900.9 l-7.4,0.5 M1039.7,867.5 l-5.1,4.2 M1041.2,848.5 l-9.5,1.1 M1044.4,844.5 l5.1,1.7 M1115.7,879 l-1.4,7.6 M1052,880 l8.1,3.5 M1044.2,855.9 l5.2,4.1 M1133.9,921.3 l6,8.4 M1054.1,859.2 l-7.9,3.9 M1042.5,892.7 l5.1,4.1 M1113.1,885.9 l3.2,4.4 M1041.5,865.3 l6.2,6 M1071,871.5 l-7.8,1 M1092.3,906.3 l5,3.2 M1127.4,919.1 l4.3,4.3 M1109.6,918 l8.7,6.2 M1124.6,906.5 l1.4,5.5 M1036.1,888.2 l6.8,6.3 M1059,889 l-2,6.5 M1050.4,878.5 l6.2,1.4 M1090.7,904.8 l-2.3,6.3 M1128.3,887.3 l6.6,0.3 M1078.8,851.7 l6.1,3.8 M1092.1,863.4 l4.3,9.4 M1135,914.2 l-4.8,7 M1046.7,831.9 l10.4,0.6 M1105.6,917.5 l8.8,0.6 M1082.6,894 l5.9,9.3 M1039.9,862.1 l-7,7.6 M1109.4,904.7 l-8.4,6.3 M1068.9,884.9 l-9.7,3.1 M1075.8,894.5 l-7.7,3.5 M1097.6,880.9 l-2.2,8.4 M1040.4,868.5 l-10.3,0.2 M1108.5,886.8 l-5.7,6.3 M1078.3,898.5 l9.2,2.5 M1035.1,863.4 l0.4,6.4 M1105.3,891.3 l-3.7,9.8 M1058.9,837.3 l5.3,7.4 M1053.3,844.3 l-8.6,2.6 M1078.4,901.8 l4.7,7.7 M1052.8,860.9 l-8.6,6 M1124.4,894.8 l-1.8,6.7 M1046.3,861.9 l-8.8,4.9 M1106.7,917.3 l3.9,4.6 M1079.3,865 l5.9,4.7 M1097.7,887.3 l5.5,8.4 M1135.1,903.8 l5,1.2 M1123.6,876.1 l-5.1,6.7 M1064.4,889.4 l5.8,0.3 M1079.8,850.1 l-5.5,3.3 M1046.8,832.7 l-3,7.1 M1098.1,896.8 l-8.8,6.1 M1103.9,873.8 l0.5,6.1 M1033.1,853.7 l-3.8,4.8 M1060.6,859.5 l-4.7,6.6 M1096.5,901.8 l3.2,9.2 M1127.2,880.5 l-9.1,2 M1045.6,858.8 l-4,9.7 M1071.6,878.9 l-9.1,3.6 M1131.1,902.4 l-2.9,5.5 M1107.8,910.4 l-4,8.4 M1054.4,891.9 l-10.8,0.7 M1088.4,900.1 l5.6,8.8 M1121.9,891.5 l7.4,2 M1089.8,899.5 l0.2,5.2 M1117,873.6 l-4.9,3.6 M1067.2,890.4 l5.3,2.5 M1086.2,895.2 l-8,4.4 M1131.3,903.9 l-5.4,0.9 M1055.2,868.3 l5.7,7.4 M1099.1,889.6 l-7.4,3.9 M1064.7,863.8 l-9.2,4.9 M1053.9,888.5 l-8.1,0.8 M1092.2,867.5 l-0.9,8 M1095.5,859.3 l-8.1,0.8 M1074.1,894.3 l-1.6,7.8 M1104.6,866.6 l-0.9,7.4 M1132.5,926.8 l5.2,5.9 M1045.3,857.3 l-8.7,5.7 M1082,868.9 l7.2,4.9 M1129.2,883.9 l-4,3.3 " fill="none" stroke="#000" stroke-width="1.1"/>
<path d="M1450.3,1104.5 l-2.9,5.1 M1418.7,1067.7 l6.4,7.5 M1465,1109.3 l-1.6,8.8 M1427.9,1077.2 l9.1,5.1 M1422,1098.8 l8.9,2.1 M1440.9,1082.4 l-4.5,2.4 M1422.1,1105.3 l-0.2,5.5 M1485.1,1143.7 l7.1,2.6 M1427.2,1068.4 l-2.2,5.6 M1465.4,1073.2 l8.5,5.1 M1445.2,1085.8 l-2.3,7.5 M1444.2,1059.6 l-7.1,8.2 M1484.4,1124.6 l3.1,6.5 M1464.9,1114 l6,2.2 M1442.7,1090.5 l-6.6,4.5 M1419.9,1097.9 l1.8,7.9 M1433.1,1079.4 l3.3,9 M1425,1082.8 l7.8,4.9 M1420.5,1062.2 l4.1,7.8 M1421.5,1074.8 l5.3,4.1 M1450.4,1124.5 l0.6,10.7 M1429.4,1110.1 l2.5,5.6 M1468.9,1132.1 l6.6,0.1 M1470.4,1095.3 l3.7,3.5 M1420.7,1084.9 l-11,0.6 M1452.2,1063.8 l5.1,8.3 M1474.6,1117.3 l6.1,5.4 M1450.5,1102.6 l7.2,7.8 M1478.8,1088.3 l6.2,8.1 M1436.9,1115.7 l-0.4,9.2 M1465.9,1084.3 l4.1,5.1 M1464.5,1115.1 l9.4,4.1 M1446.6,1074.9 l2.2,10.7 M1456.1,1105.7 l-10.4,2.7 M1469.7,1099.9 l-2.9,10 M1471.7,1111.7 l3.3,6.4 M1468,1108.5 l9.2,0.5 M1479.5,1130.6 l-9.9,3.3 M1454.4,1115.6 l2.1,5.2 M1442,1076.9 l-8.9,1.9 M1454.8,1104.8 l7.6,3.1 M1465.6,1096 l5.3,5.2 M1440,1100.4 l5,2.4 M1439.2,1100.7 l-6.5,6.1 M1481.6,1103.3 l7.9,0.7 M1448.2,1071.7 l-3.5,6.1 M1434.2,1073.5 l-5,0.9 M1442.5,1075.1 l6.1,4.5 M1433,1111.8 l-0,9.2 M1429,1079.5 l-3.3,9.5 M1435,1082.6 l-9,4.4 M1433.5,1086.9 l-5.4,5 M1463.8,1112.7 l-8.3,0.7 M1464.3,1092.3 l-4.6,5.2 M1452,1085.9 l3.3,4.8 M1433.3,1087.3 l3.7,3.8 M1472.6,1092.9 l-8.4,1.7 M1444.5,1115.4 l-6.6,2.2 M1426.6,1089.7 l-7.6,4.1 M1471.3,1100.5 l-2.4,6.1 M1445.7,1083.5 l2.6,6.9 M1472.9,1085.4 l5.2,3.9 M1484,1115.1 l9.9,1.7 M1477.4,1131 l4,8.5 M1438.8,1063.5 l-9.1,4.1 M1432.4,1108.8 l6.8,0.5 M1418.9,1054.3 l8.1,4.6 M1438.2,1066.7 l5.8,3.8 M1476.6,1116.4 l8.6,2.9 M1454.5,1093.1 l-0.8,8.9 M1472.4,1107.3 l-3.2,7.1 M1461.1,1093 l2.1,7.8 M1466.6,1088.9 l-7.7,1.9 M1476.2,1121.6 l-9,1.2 M1447,1086 l-3.2,9 M1475.1,1083.9 l5.5,1.1 M1423.7,1049.5 l6.5,0.2 M1425.7,1092.2 l-3.8,10.1 M1483.3,1129.5 l-5.1,0.8 M1433.5,1112.6 l0.5,6.2 M1469.5,1100.1 l-0.9,6.8 M1434.4,1057.7 l-3.5,10.1 M1485.1,1131.7 l-7,1.5 M1438.3,1115.1 l-2.8,8.6 M1418.9,1058.1 l0.5,9.4 " fill="none" stroke="#000" stroke-width="1.1"/>
<polyline points="1038.8,809.5 1104.8,849.9" fill="none" stroke="#000" stroke-width="1"/>
<polyline points="1444.8,1047.5 1494.8,1075.5" fill="none" stroke="#000" stroke-width="1"/>
<polyline points="1042.9,807.3 1122.9,855.8" fill="none" stroke="#000" stroke-width="1"/>
<polyline points="1438.9,1039.5 1498.9,1073.3" fill="none" stroke="#000" stroke-width="1"/>
<polyline points="1047.1,805.1 1141.1,861.6" fill="none" stroke="#000" stroke-width="1"/>
<polyline points="1433.1,1031.6 1503.1,1071.1" fill="none" stroke="#000" stroke-width="1"/>
<polyline points="1051.3,802.9 1159.3,867.5" fill="none" stroke="#000" stroke-width="1"/>
<polyline points="1427.3,1023.6 1507.3,1068.9" fill="none" stroke="#000" stroke-width="1"/>
<polyline points="1055.5,800.7 1177.5,873.4" fill="none" stroke="#000" stroke-width="1"/>
<polyline points="1421.5,1015.6 1511.5,1066.7" fill="none" stroke="#000" stroke-width="1"/>
<polyline points="1494.5,1081.2 1494.5,1155.2" fill="none" stroke="#000" stroke-width="1"/>
<polyline points="1498,1087.1 1498,1143.1" fill="none" stroke="#000" stroke-width="1"/>
<polyline points="1502,1076.8 1502,1130.8" fill="none" stroke="#000" stroke-width="1"/>
<polyline points="1505.5,1082.8 1505.5,1148.8" fill="none" stroke="#000" stroke-width="1"/>
<polyline points="1509,1072.8 1509,1136.8" fill="none" stroke="#000" stroke-width="1"/>
<polyline points="1396.5,1028 1396.5,1100" fill="none" stroke="#000" stroke-width="1.3"/>
<polyline points="1123.2,912 1123.2,943" fill="none" stroke="#000" stroke-width="1.3"/>
<path d="M 1483.4,1450 L 1483.4,1356 Q 1484,1342 1497,1340 Q 1512,1342 1512.4,1356 L 1512.4,1450 Z" fill="#fff" stroke="#000" stroke-width="2.6"/>
<path d="M 1483.4,1364 Q 1498,1370 1512.4,1363" fill="none" stroke="#000" stroke-width="2.3"/>
<path d="M 1483.4,1369.2 Q 1498,1375.2 1512.4,1368.2" fill="none" stroke="#000" stroke-width="2.3"/>
<path d="M 1483.4,1374.4 Q 1498,1380.4 1512.4,1373.4" fill="none" stroke="#000" stroke-width="2.3"/>
<path d="M 1483.4,1379.6 Q 1498,1385.6 1512.4,1378.6" fill="none" stroke="#000" stroke-width="2.3"/>
<path d="M 1483.4,1384.8 Q 1498,1390.8 1512.4,1383.8" fill="none" stroke="#000" stroke-width="2.3"/>
<path d="M 1483.4,1390 Q 1498,1396 1512.4,1389" fill="none" stroke="#000" stroke-width="2.3"/>
<path d="M 1483.4,1395.2 Q 1498,1401.2 1512.4,1394.2" fill="none" stroke="#000" stroke-width="2.3"/>
<path d="M 1483.4,1400.4 Q 1498,1406.4 1512.4,1399.4" fill="none" stroke="#000" stroke-width="2.3"/>
<path d="M 1483.4,1405.6 Q 1498,1411.6 1512.4,1404.6" fill="none" stroke="#000" stroke-width="2.3"/>
<path d="M 1483.4,1410.8 Q 1498,1416.8 1512.4,1409.8" fill="none" stroke="#000" stroke-width="2.3"/>
<path d="M 1483.4,1416 Q 1498,1422 1512.4,1415" fill="none" stroke="#000" stroke-width="2.3"/>
<path d="M 1483.4,1421.2 Q 1498,1427.2 1512.4,1420.2" fill="none" stroke="#000" stroke-width="2.3"/>
<path d="M 1483.4,1426.4 Q 1498,1432.4 1512.4,1425.4" fill="none" stroke="#000" stroke-width="2.3"/>
<path d="M 1483.4,1431.6 Q 1498,1437.6 1512.4,1430.6" fill="none" stroke="#000" stroke-width="2.3"/>
<path d="M 1483.4,1436.8 Q 1498,1442.8 1512.4,1435.8" fill="none" stroke="#000" stroke-width="2.3"/>
<path d="M 1483.4,1442 Q 1498,1448 1512.4,1441" fill="none" stroke="#000" stroke-width="2.3"/>
<path d="M 1483.4,1447.2 Q 1498,1453.2 1512.4,1446.2" fill="none" stroke="#000" stroke-width="2.3"/>
<path d="M 1488,1346 q 6,6 10,2 q 4,8 10,2 M 1490,1356 q 8,4 16,-2 M 1493,1343 q 3,8 -2,12 M 1503,1344 q -3,8 3,12" fill="none" stroke="#000" stroke-width="2"/>
<path d="M 1467.3,1452 L 1478,1446 L 1520.5,1448 L 1520.5,1610 Q 1510,1628 1490,1632 L 1470,1626 L 1467.3,1615 Z" fill="#fff" stroke="#000" stroke-width="3.8" stroke-linejoin="round"/>
<polyline points="1480,1462 1480,1622" fill="none" stroke="#000" stroke-width="1.3"/>
<polyline points="1471,1458 1480,1462 1518,1452" fill="none" stroke="#000" stroke-width="1.3"/>
<path d="M 1496,1600 L 1496,1478 Q 1500,1468 1506,1472 L 1506,1596" fill="none" stroke="#000" stroke-width="1.3"/>
<polyline points="1474,1466 1474,1618" fill="none" stroke="#000" stroke-width="1.3" stroke-dasharray="30 6"/>
<polyline points="1484,1470 1484,1520" fill="none" stroke="#000" stroke-width="2.2"/>
<polyline points="1486,1560 1480,1610" fill="none" stroke="#000" stroke-width="1.6"/>
<ellipse cx="1497" cy="1618" rx="4" ry="5" fill="none" stroke="#000" stroke-width="1.4"/>
<path d="M 1520.5,1540 L 1528,1528 L 1536,1530 L 1534,1540 L 1546,1534 L 1549,1540 L 1530,1572 L 1520.5,1580 Z" fill="#fff" stroke="#000" stroke-width="2.4" stroke-linejoin="round"/>
<polyline points="1524,1540 1524,1574" fill="none" stroke="#000" stroke-width="1.3"/>
<polyline points="1528,1545 1528,1566" fill="none" stroke="#000" stroke-width="1.3"/>
<path d="M 1512,1555 l 5,2 l 0,10 l -5,-2 Z M 1510,1590 l 6,-8 l 0,22 l -6,0 Z" fill="none" stroke="#000" stroke-width="1.4"/>
<polygon points="1348.8,1550.7 1348.8,1140.1 1372.3,1127.2 1436.7,1164.3 1436.7,1574.9 1412.6,1587.8" fill="#fff" stroke="#000" stroke-width="4" stroke-linejoin="round"/>
<polyline points="1348.8,1140.1 1412.6,1177.1 1412.6,1587.8" fill="none" stroke="#000" stroke-width="1.3"/>
<polyline points="1412.6,1177.1 1436.7,1164.3" fill="none" stroke="#000" stroke-width="1.3"/>
<path d="M1362.2,1212.9 l-3.2,7.2 M1365.1,1222.8 l-6.6,4.6 M1381.3,1187.6 l7.2,0.1 M1385.8,1176.9 l-5.1,3.9 M1366,1163.3 l-9.4,0.1 M1402,1230 l6.9,0.7 M1380.9,1177.8 l-7.1,1.1 M1361.7,1222.8 l9.8,4 M1378.4,1211.2 l3.7,7 M1363.5,1161.4 l-5.8,2.6 M1396.7,1194.3 l-10.3,1 M1395.3,1237.8 l-2.4,9.1 M1359.9,1194.5 l-5.3,3.2 M1404.7,1253.3 l2,6.9 M1378.3,1197.9 l-7.3,0.1 M1354.5,1160.8 l-6.9,8.5 M1380.8,1207.8 l-1.5,9.4 M1365.4,1208.3 l-1.5,8.6 M1363.1,1171.9 l4.8,9.4 M1372.4,1211.4 l3.2,4.6 M1356.7,1219.6 l-5.5,4.7 M1391.3,1228.6 l-10.2,3.4 M1375.8,1244.7 l-8.5,1 M1402.5,1220.2 l2.5,6 M1402.1,1193.7 l9.6,2.1 M1396.3,1216.1 l-4.6,2.6 M1367.4,1183.9 l1.5,5.8 M1356.9,1181.7 l-10.4,3.4 M1394.8,1214.8 l7.6,7.7 M1382.4,1227.7 l6.2,0.6 M1399.9,1243.1 l-8,3.1 M1376.9,1212.7 l-6.1,3.1 M1382.9,1191.8 l-3.8,3.4 M1391.4,1250.9 l8.5,0.6 M1389.1,1241.4 l-1.7,6.3 M1375.7,1242.2 l-5.5,1.7 M1358.3,1163 l7.7,0.6 M1360.9,1226.4 l-2.7,5.1 M1383.2,1195.8 l0.1,6.3 M1362.3,1172.5 l3.5,8.6 M1383.8,1173.9 l-6.3,8.1 M1396.4,1240.7 l7.8,0.2 M1356.6,1215.6 l7.9,4.9 M1367.2,1216.3 l2.9,4.4 M1374.8,1189.7 l-6.4,2.1 M1381.2,1212.6 l-5.5,0.9 M1386.7,1212.5 l-7.3,8 M1370.4,1218.4 l-0.7,8.3 M1356.6,1219.7 l-7.1,0.5 M1370.8,1242.2 l5.1,1.8 M1357.1,1219.9 l-5.6,5.3 M1387.8,1174.1 l-3.4,6.9 M1382,1200.3 l1.9,6.1 M1355.7,1188.7 l6.6,6.5 M1398.8,1236.7 l0.9,6.4 M1374.6,1203.8 l-4.3,9.9 M1357.8,1193.6 l0.2,9.3 M1402.9,1243.6 l-3.7,8.8 M1390.4,1242.7 l-5.3,7.4 M1366.7,1233.7 l3,8.1 M1399.2,1256.2 l-5,0.2 M1370.5,1187.5 l2,5.5 M1384,1176.7 l6.2,8.7 M1394.6,1213.4 l10.1,3.6 M1392.4,1191.6 l4.4,7.7 M1391.2,1195.3 l-6.9,1.1 M1367.2,1228.3 l8.1,4.2 M1364.2,1206.7 l4.7,5.6 M1405.7,1220.2 l1.7,8.5 M1368.7,1175.4 l2.4,6.2 M1363.6,1235.4 l9.8,1.1 M1405.3,1239 l8,0.5 M1355.2,1202.3 l-3.8,5.2 M1353.4,1196.2 l6.6,2 M1378.4,1238.7 l2.3,5.3 M1397.3,1243.8 l-0.5,5.3 M1363.5,1190.7 l-1,6.3 M1397.9,1245.8 l-10,2.4 M1354,1199.6 l10.1,2.6 M1394.8,1237.3 l4.4,3 " fill="none" stroke="#000" stroke-width="1.1"/>
<path d="M1406.7,1487.4 l11,0.8 M1363.3,1460.4 l-3.2,6.3 M1402.8,1494.3 l-6.9,0.9 M1386.7,1555.1 l-5.8,8.8 M1392.7,1470.1 l-8,3.1 M1370.4,1471.5 l-7.6,3.9 M1405.5,1550.1 l-8.3,1 M1392.1,1526.2 l7.4,7.8 M1370.5,1530.6 l-8.8,1.3 M1361,1529.5 l-3.1,5.3 M1355.8,1497.2 l10.5,1.1 M1381.4,1510.5 l2.5,8.6 M1404.3,1502.8 l3.3,7.8 M1369.6,1511.6 l-1,7.5 M1390.7,1517 l10.6,3 M1372.9,1497.1 l3.2,10.1 M1406.3,1524.4 l1.7,5.3 M1403.1,1488.5 l-1,7 M1371.4,1488.8 l4.3,3 M1383,1539.3 l-2.8,5.6 M1391.8,1470 l2.8,9.6 M1404.6,1518.2 l-7.1,3.7 M1382.3,1517.8 l-9.5,0.3 M1379.5,1530.4 l-3.1,6.4 M1396.9,1549.7 l-3.6,10 M1354,1493 l-2.9,6.4 M1362.6,1517.2 l1.4,6.5 M1355.3,1540.5 l2.6,5.1 M1365.1,1474.9 l-5.6,2.5 M1368.5,1461.1 l0.6,6.2 M1372.3,1527 l-9.7,2.3 M1355.1,1481.4 l-4.6,2.4 M1364.4,1498 l3.4,8.9 M1393.2,1512.1 l4.5,4.5 M1367.9,1457.5 l-3,5.2 M1402.8,1535.8 l7.9,1.4 M1386.8,1466.2 l0.2,5.2 M1395.9,1467.6 l-4.4,10 M1400.4,1493.1 l-0.6,5.8 M1372.2,1539.9 l-4.2,2.7 M1374.3,1518.7 l8.4,5.1 M1403,1526.4 l4.2,9.2 M1381.7,1477.8 l3.8,4.6 M1400,1520.5 l-5.7,8.1 M1407.5,1492.9 l3,9.8 M1395.7,1505.7 l-2.9,5.4 M1362.1,1452.7 l2.4,6 M1382,1556.1 l7.4,3.9 M1401.4,1530.2 l-0.8,9.6 M1354.2,1538 l-5.4,8.2 M1399.2,1478.9 l5.9,1.3 M1381.3,1552.6 l-7.2,2.1 M1387.9,1536.5 l5.4,9.4 M1405.7,1545.6 l-9.3,3 M1389.5,1495.6 l4.1,5 M1356.2,1536.9 l3,4.1 M1370.7,1463 l1.2,6.9 M1362.8,1495.8 l1.9,6.9 M1398.5,1499.4 l-1.3,10.2 M1406.7,1510.9 l10.6,1.4 M1381.8,1480.8 l5.9,2.5 M1370.4,1466.3 l10.8,1.7 M1398.9,1480.3 l0.6,9.8 M1381.3,1465.6 l3.5,6.4 M1404.2,1530.3 l1.1,8.7 M1355.7,1512.6 l-7.4,5.1 M1373.2,1482.7 l5.5,0.2 M1361.7,1492.7 l-4.8,4 M1379.5,1521.3 l-2,4.7 M1404.6,1530.7 l3.7,5.2 M1391.6,1558 l3.6,6.4 M1384.2,1477.9 l3.1,10 M1384.2,1542.7 l6.9,7.5 M1396.8,1490.3 l-0.9,9.1 M1385.1,1521.1 l6.1,5.7 M1372.9,1533.7 l4.2,10 M1385.5,1484 l1.5,5.6 M1394.2,1470.8 l-2.2,6.5 M1396.5,1480.2 l-5,7.8 M1366.1,1463 l3.5,8.2 M1367.6,1451.7 l1.8,9.7 M1361.8,1541.6 l-0.2,6 M1358.6,1482.7 l0.4,6 M1357.7,1495.3 l5.4,5.5 M1378.2,1526.7 l-1.5,6.2 M1363.1,1534.1 l5.7,0.9 M1356.9,1527.3 l-1.4,10.5 M1388.1,1496.2 l2,9.2 M1365.9,1530.2 l1.5,5 M1372.2,1509.6 l9.3,4.6 M1404.9,1523.5 l-8.7,2.7 M1383.1,1475.6 l-10.4,1.6 M1378.3,1495.5 l8.5,2 M1400.9,1508.9 l5.3,6.8 M1397.4,1485 l5.6,6.9 M1355.3,1525.4 l5.5,8.4 M1378.5,1473.7 l5.7,0.3 M1367.6,1526.6 l-7,5.3 M1370.2,1518.7 l-4.8,5.4 M1357.6,1491.9 l4.7,3.9 M1374.9,1462.5 l-6.3,2.1 M1403.3,1545.2 l10.4,0.4 M1398.3,1521.1 l-7.4,2.8 M1354.4,1458.2 l5.7,8.4 M1399.5,1481 l2.6,5.1 M1365.8,1485 l1.6,5.7 M1389.8,1487.9 l-7.4,2.7 M1377.1,1532.9 l3.1,5.8 M1359.9,1475.9 l7,6.3 M1372.9,1524.6 l3.5,4.1 " fill="none" stroke="#000" stroke-width="1.1"/>
<polyline points="1416,1179.1 1416,1235.1" fill="none" stroke="#000" stroke-width="1"/>
<polyline points="1416,1505.1 1416,1581.1" fill="none" stroke="#000" stroke-width="1"/>
<polyline points="1420,1176.8 1420,1257.8" fill="none" stroke="#000" stroke-width="1"/>
<polyline points="1420,1477.8 1420,1578.8" fill="none" stroke="#000" stroke-width="1"/>
<polyline points="1424,1174.5 1424,1280.5" fill="none" stroke="#000" stroke-width="1"/>
<polyline points="1424,1450.5 1424,1576.5" fill="none" stroke="#000" stroke-width="1"/>
<polyline points="1428,1172.2 1428,1228.2" fill="none" stroke="#000" stroke-width="1"/>
<polyline points="1428,1498.2 1428,1574.2" fill="none" stroke="#000" stroke-width="1"/>
<polyline points="1432,1169.9 1432,1250.9" fill="none" stroke="#000" stroke-width="1"/>
<polyline points="1432,1470.9 1432,1571.9" fill="none" stroke="#000" stroke-width="1"/>
<polyline points="1357.7,1137 1407.7,1165.8" fill="none" stroke="#000" stroke-width="1"/>
<polyline points="1362.3,1134.6 1412.3,1163.4" fill="none" stroke="#000" stroke-width="1"/>
<polyline points="1366.8,1132.2 1416.8,1161" fill="none" stroke="#000" stroke-width="1"/>
<polyline points="1371.4,1129.8 1421.4,1158.6" fill="none" stroke="#000" stroke-width="1"/>
<path d="M 779.2,952.2 L 815.5,931.6 L 1279.5,1197.6 L 1303,1238.9 L 1303,1657.5 L 1269.2,1674 L 779.2,1391 Z M 854.7,1091.5 Q 854.7,1051.5 894.7,1074.5 L 1181,1239.7 Q 1221,1262.8 1221,1302.8 L 1221,1528.6 Q 1221,1568.6 1181,1545.5 L 894.7,1380.3 Q 854.7,1357.3 854.7,1317.3 Z" fill="#fff" stroke="#000" stroke-width="4" fill-rule="evenodd" stroke-linejoin="round"/>
<path d="M 850.5,1089 Q 850.5,1045 894.5,1070.3 L 1181.5,1235.9 Q 1225.5,1261.3 1225.5,1305.3 L 1225.5,1536.1 Q 1225.5,1580.1 1181.5,1554.8 L 894.5,1389.2 Q 850.5,1363.8 850.5,1319.8 Z" fill="none" stroke="#000" stroke-width="1.3" stroke-dasharray="150 8"/>
<polyline points="784,957 784,1390" fill="none" stroke="#000" stroke-width="1.3"/>
<polyline points="796,937.4 1240,1192" fill="none" stroke="#000" stroke-width="1.3"/>
<polyline points="800,943.7 1215,1181.6" fill="none" stroke="#000" stroke-width="1.3" stroke-dasharray="200 8 60 8"/>
<polyline points="1252,1200.8 1270,1222 1283.7,1247 1283.7,1664" fill="none" stroke="#000" stroke-width="1.3"/>
<polyline points="1288,1252 1288,1660" fill="none" stroke="#000" stroke-width="1.3" stroke-dasharray="70 9"/>
<polyline points="1283.7,1247 1303,1238.9" fill="none" stroke="#000" stroke-width="1.3"/>
<polyline points="1269.2,1674 1283.7,1664" fill="none" stroke="#000" stroke-width="1.3"/>
<ellipse cx="797.8" cy="1049.1" rx="1.8" ry="2.4" fill="#000" stroke="#000" stroke-width="1.3"/>
<ellipse cx="911.6" cy="1056.5" rx="1.8" ry="2.4" fill="none" stroke="#000" stroke-width="1.3"/>
<ellipse cx="902.1" cy="991.4" rx="1.8" ry="2.4" fill="none" stroke="#000" stroke-width="1.3"/>
<ellipse cx="1126.9" cy="1122.5" rx="1.8" ry="2.4" fill="none" stroke="#000" stroke-width="1.3"/>
<ellipse cx="1157" cy="1197.6" rx="1.8" ry="2.4" fill="none" stroke="#000" stroke-width="1.3"/>
<ellipse cx="1270.5" cy="1321.4" rx="1.8" ry="2.4" fill="#000" stroke="#000" stroke-width="1.3"/>
<ellipse cx="1244.5" cy="1429.4" rx="1.8" ry="2.4" fill="#000" stroke="#000" stroke-width="1.3"/>
<ellipse cx="1270.5" cy="1558.5" rx="1.8" ry="2.4" fill="#000" stroke="#000" stroke-width="1.3"/>
<path d="M 1236,1603 L 1279,1628 L 1254,1622 Z" fill="#000" stroke="#000" stroke-width="1.2"/>
<path d="M 1236,1603 L 1250,1630 L 1262,1636 L 1279,1628 M 1250,1630 L 1254,1622" fill="none" stroke="#000" stroke-width="1.2"/>
<path d="M 1118.7,1319.3 L 1138,1308 L 1169,1326 L 1169,1693.7 L 1153.9,1688.8 L 1134.6,1700 L 1118.5,1688 L 1118.5,1604 L 1126.5,1592 L 1126.5,1424 L 1118.7,1408 Z" fill="#fff" stroke="#000" stroke-width="4.8" stroke-linejoin="round"/>
<path d="M 1126.5,1592 Q 1134,1600 1141,1596" fill="none" stroke="#000" stroke-width="4"/>
<path d="M 1126.5,1422 Q 1132,1428 1139,1424" fill="none" stroke="#000" stroke-width="2.4"/>
<path d="M 1125,1326 L 1140,1334" fill="none" stroke="#000" stroke-width="2.4"/>
<polyline points="1148.8,1330 1148.8,1690" fill="none" stroke="#000" stroke-width="1.3" stroke-dasharray="28 5 6 5"/>
<polyline points="1127,1330 1127,1410" fill="none" stroke="#000" stroke-width="1.3" stroke-dasharray="40 8"/>
<polyline points="1133.5,1332 1133.5,1420" fill="none" stroke="#000" stroke-width="1.3" stroke-dasharray="55 8"/>
<polyline points="1132,1430 1132,1590" fill="none" stroke="#000" stroke-width="1.3" stroke-dasharray="60 8"/>
<polyline points="1138,1432 1138,1588" fill="none" stroke="#000" stroke-width="1.3" stroke-dasharray="30 8"/>
<polyline points="1124,1610 1124,1685" fill="none" stroke="#000" stroke-width="1.3" stroke-dasharray="40 8"/>
<polyline points="1131,1606 1131,1690" fill="none" stroke="#000" stroke-width="1.3" stroke-dasharray="50 8"/>
<path d="M 1143.8,1341.2 l 5,-6 l 5,6 M 1141,1342.7 l 16,0" fill="none" stroke="#000" stroke-width="1.3"/>
<path d="M 1143.8,1400.6 l 5,-6 l 5,6 M 1141,1402.1 l 16,0" fill="none" stroke="#000" stroke-width="1.3"/>
<path d="M 1143.8,1447.2 l 5,-6 l 5,6 M 1141,1448.7 l 16,0" fill="none" stroke="#000" stroke-width="1.3"/>
<path d="M 1143.8,1506.2 l 5,-6 l 5,6 M 1141,1507.7 l 16,0" fill="none" stroke="#000" stroke-width="1.3"/>
<path d="M 1143.8,1568 l 5,-6 l 5,6 M 1141,1569.5 l 16,0" fill="none" stroke="#000" stroke-width="1.3"/>
<path d="M 1143.8,1611 l 5,-6 l 5,6 M 1141,1612.5 l 16,0" fill="none" stroke="#000" stroke-width="1.3"/>
<path d="M 1143.8,1670 l 5,-6 l 5,6 M 1141,1671.5 l 16,0" fill="none" stroke="#000" stroke-width="1.3"/>
<ellipse cx="1155.8" cy="1388.2" rx="2.2" ry="2.8" fill="#000" stroke="#000" stroke-width="1"/>
<ellipse cx="1140.5" cy="1424.5" rx="2.2" ry="2.8" fill="#000" stroke="#000" stroke-width="1"/>
<ellipse cx="1155.8" cy="1625.8" rx="2.2" ry="2.8" fill="#000" stroke="#000" stroke-width="1"/>
<path d="M 1082.2,1237 l 20,-9 l 8,4 l 1,9 l -5,7 l -18,6 Z" fill="#fff" stroke="#000" stroke-width="3.4" stroke-linejoin="round"/>
<polyline points="1089.2,1236 1092.2,1251" fill="none" stroke="#000" stroke-width="1.6"/>
<polyline points="1092.8,1235.1 1095.8,1248.8" fill="none" stroke="#000" stroke-width="1.6"/>
<polyline points="1096.4,1234.2 1099.4,1246.6" fill="none" stroke="#000" stroke-width="1.6"/>
<polyline points="1100,1233.3 1103,1244.4" fill="none" stroke="#000" stroke-width="1.6"/>
<polyline points="1103.6,1232.4 1106.6,1242.2" fill="none" stroke="#000" stroke-width="1.6"/>
<ellipse cx="1076.2" cy="1245" rx="13" ry="15.5" fill="#fff" stroke="#000" stroke-width="4.6" transform="rotate(-20 1076.2 1245)"/>
<ellipse cx="1076.2" cy="1245" rx="8" ry="10" fill="none" stroke="#000" stroke-width="1.6" transform="rotate(-20 1076.2 1245)"/>
<path d="M 1071.2,1246 l 5,-7 l 6,3 l 1,8 l -5,6 l -6,-3 Z" fill="none" stroke="#000" stroke-width="1.5"/>
<path d="M 1075.2,1240 l 3,8 M 1073.2,1248 l 6,-2" fill="none" stroke="#000" stroke-width="1.2"/>
<path d="M 1019.8,1700 l 20,-9 l 8,4 l 1,9 l -5,7 l -18,6 Z" fill="#fff" stroke="#000" stroke-width="3.4" stroke-linejoin="round"/>
<polyline points="1026.8,1699 1029.8,1714" fill="none" stroke="#000" stroke-width="1.6"/>
<polyline points="1030.4,1698.1 1033.4,1711.8" fill="none" stroke="#000" stroke-width="1.6"/>
<polyline points="1034,1697.2 1037,1709.6" fill="none" stroke="#000" stroke-width="1.6"/>
<polyline points="1037.6,1696.3 1040.6,1707.4" fill="none" stroke="#000" stroke-width="1.6"/>
<polyline points="1041.2,1695.4 1044.2,1705.2" fill="none" stroke="#000" stroke-width="1.6"/>
<ellipse cx="1013.8" cy="1708" rx="13" ry="15.5" fill="#fff" stroke="#000" stroke-width="4.6" transform="rotate(-20 1013.8 1708)"/>
<ellipse cx="1013.8" cy="1708" rx="8" ry="10" fill="none" stroke="#000" stroke-width="1.6" transform="rotate(-20 1013.8 1708)"/>
<path d="M 1008.8,1709 l 5,-7 l 6,3 l 1,8 l -5,6 l -6,-3 Z" fill="none" stroke="#000" stroke-width="1.5"/>
<path d="M 1012.8,1703 l 3,8 M 1010.8,1711 l 6,-2" fill="none" stroke="#000" stroke-width="1.2"/>
<polygon points="618.5,1025.3 626.6,1020.5 1077.8,1279.5 1077.8,1655 1069.5,1660.5 618.5,1401" fill="#fff" stroke="#000" stroke-width="4" stroke-linejoin="round"/>
<polyline points="627.4,1026 627.4,1400" fill="none" stroke="#000" stroke-width="1.3"/>
<polyline points="630,1030 1054,1276.5" fill="none" stroke="#000" stroke-width="1.3"/>
<polyline points="1069.2,1286 1069.2,1660" fill="none" stroke="#000" stroke-width="1.3" stroke-dasharray="30 8 200 0"/>
<polyline points="625,1396 1069.5,1651.5" fill="none" stroke="#000" stroke-width="1.3"/>
<path d="M 645,1196 L 676,1140 M 660,1190 L 682,1150 M 640,1200 L 662,1162 M 668,1330 L 736,1220 M 686,1335 L 716,1280 M 700,1345 L 724,1300 M 712,1250 L 720,1236 M 816,1325 L 856,1252 M 832,1330 L 868,1262 M 826,1372 L 876,1290 M 846,1330 L 866,1300 M 1000,1402 L 1010,1388 M 1004,1535 L 1030,1490 M 1016,1530 L 1044,1480 M 1002,1560 L 1016,1536" fill="none" stroke="#000" stroke-width="1.3"/>
<path d="M 598.5,856 L 600.5,852 L 605.6,849.8 L 694.2,901.3 L 696.5,905 L 696.5,962 L 693,967 L 670,972.1 L 628.2,948 L 616.9,936.7 L 598.5,906 Z" fill="#fff" stroke="none" stroke-width="0"/>
<polyline points="598.5,897 598.5,856 600.5,852 605.6,849.8 694.2,901.3 696.5,905 696.5,962 693,967 670,972.1 628.2,948" fill="none" stroke="#000" stroke-width="3" stroke-linejoin="round"/>
<polyline points="600.8,906.1 616.9,936.7" fill="none" stroke="#000" stroke-width="3"/>
<polyline points="604,854 691,904.5 691,962" fill="none" stroke="#000" stroke-width="1.3"/>
<polyline points="691,904.5 696,902" fill="none" stroke="#000" stroke-width="1.3"/>
<path d="M 616,887 l 12,7" fill="none" stroke="#000" stroke-width="5.4" stroke-linecap="round"/>
<path d="M 667,917 l 12,7" fill="none" stroke="#000" stroke-width="5.4" stroke-linecap="round"/>
<ellipse cx="641" cy="886" rx="2.2" ry="3.2" fill="none" stroke="#000" stroke-width="1.4" transform="rotate(-20 641 886)"/>
<ellipse cx="652" cy="892" rx="2.2" ry="3.2" fill="none" stroke="#000" stroke-width="1.4" transform="rotate(-20 652 892)"/>
<ellipse cx="646" cy="900" rx="2.2" ry="3.2" fill="none" stroke="#000" stroke-width="1.4" transform="rotate(-20 646 900)"/>
<ellipse cx="615" cy="912" rx="2.2" ry="3.2" fill="none" stroke="#000" stroke-width="1.4" transform="rotate(-20 615 912)"/>
<ellipse cx="625" cy="918" rx="2.2" ry="3.2" fill="none" stroke="#000" stroke-width="1.4" transform="rotate(-20 625 918)"/>
<ellipse cx="637" cy="924" rx="2.2" ry="3.2" fill="none" stroke="#000" stroke-width="1.4" transform="rotate(-20 637 924)"/>
<ellipse cx="655" cy="935" rx="2.2" ry="3.2" fill="none" stroke="#000" stroke-width="1.4" transform="rotate(-20 655 935)"/>
<ellipse cx="667" cy="941.5" rx="2.2" ry="3.2" fill="none" stroke="#000" stroke-width="1.4" transform="rotate(-20 667 941.5)"/>
<ellipse cx="678" cy="948" rx="2.2" ry="3.2" fill="none" stroke="#000" stroke-width="1.4" transform="rotate(-20 678 948)"/>
<ellipse cx="602" cy="862" rx="2" ry="3" fill="none" stroke="#000" stroke-width="1.3"/>
<ellipse cx="693" cy="914" rx="2" ry="4" fill="none" stroke="#000" stroke-width="1.3"/>
<path d="M 796,781 L 772,793 Q 764,800 768,808 Q 774,813 782,809 L 802,799 Z" fill="#fff" stroke="#000" stroke-width="3" stroke-linejoin="round"/>
<polyline points="772,794.5 776,808.5" fill="none" stroke="#000" stroke-width="1.5"/>
<polyline points="775.8,792.6 779.8,806.5" fill="none" stroke="#000" stroke-width="1.5"/>
<polyline points="779.6,790.7 783.6,804.5" fill="none" stroke="#000" stroke-width="1.5"/>
<polyline points="783.4,788.8 787.4,802.5" fill="none" stroke="#000" stroke-width="1.5"/>
<polyline points="787.2,786.9 791.2,800.5" fill="none" stroke="#000" stroke-width="1.5"/>
<polyline points="791,785 795,798.5" fill="none" stroke="#000" stroke-width="1.5"/>
<polyline points="794.8,783.1 798.8,796.5" fill="none" stroke="#000" stroke-width="1.5"/>
<ellipse cx="801.7" cy="789.7" rx="9.5" ry="12.5" fill="#fff" stroke="#000" stroke-width="4" transform="rotate(-20 801.7 789.7)"/>
<ellipse cx="802.7" cy="789.7" rx="5" ry="7" fill="none" stroke="#000" stroke-width="1.5" transform="rotate(-20 802.7 789.7)"/>
<path d="M 797,785 l 7,2 l 2,7 l -5,4" fill="none" stroke="#000" stroke-width="1.3"/>
<path d="M 379.5,981 L 383.4,975 L 383.4,948 L 412.4,930.3 L 968.5,1251.5 L 970,1254 L 970,1805 L 964,1822.5 L 954.3,1825.7 L 941.4,1820.9 L 379.5,1497 Z M 425.3,994 L 938,1286 L 938,1300 L 909.5,1283 L 895,1291.7 L 895,1773.5 L 425.3,1503.8 Z" fill="#fff" stroke="none" stroke-width="0" fill-rule="evenodd"/>
<polyline points="379.5,1170 379.5,981 383.4,975 383.4,948 412.4,930.3 968.5,1251.5 970,1254 970,1805 964,1822.5" fill="none" stroke="#000" stroke-width="4" stroke-linejoin="round"/>
<polyline points="379.5,1278 379.5,1289" fill="none" stroke="#000" stroke-width="4"/>
<polyline points="385,953 413,936" fill="none" stroke="#000" stroke-width="1.3"/>
<polyline points="415,938 966,1256" fill="none" stroke="#000" stroke-width="1.3"/>
<path d="M 404.6,952.7 l 6,-3" fill="none" stroke="#000" stroke-width="6" stroke-linecap="round"/>
<path d="M 414.8,958.5 l 6,-3" fill="none" stroke="#000" stroke-width="6" stroke-linecap="round"/>
<path d="M 425,964.4 l 6,-3" fill="none" stroke="#000" stroke-width="6" stroke-linecap="round"/>
<path d="M 435.1,970.2 l 6,-3" fill="none" stroke="#000" stroke-width="6" stroke-linecap="round"/>
<path d="M 445.3,976 l 6,-3" fill="none" stroke="#000" stroke-width="6" stroke-linecap="round"/>
<path d="M 455.5,981.9 l 6,-3" fill="none" stroke="#000" stroke-width="6" stroke-linecap="round"/>
<path d="M 465.7,987.7 l 6,-3" fill="none" stroke="#000" stroke-width="6" stroke-linecap="round"/>
<path d="M 475.9,993.6 l 6,-3" fill="none" stroke="#000" stroke-width="6" stroke-linecap="round"/>
<path d="M 486,999.4 l 6,-3" fill="none" stroke="#000" stroke-width="6" stroke-linecap="round"/>
<path d="M 496.2,1005.2 l 6,-3" fill="none" stroke="#000" stroke-width="6" stroke-linecap="round"/>
<path d="M 506.4,1011.1 l 6,-3" fill="none" stroke="#000" stroke-width="6" stroke-linecap="round"/>
<path d="M 516.6,1016.9 l 6,-3" fill="none" stroke="#000" stroke-width="6" stroke-linecap="round"/>
<path d="M 526.7,1022.7 l 6,-3" fill="none" stroke="#000" stroke-width="6" stroke-linecap="round"/>
<path d="M 536.9,1028.6 l 6,-3" fill="none" stroke="#000" stroke-width="6" stroke-linecap="round"/>
<path d="M 547.1,1034.4 l 6,-3" fill="none" stroke="#000" stroke-width="6" stroke-linecap="round"/>
<path d="M 557.3,1040.2 l 6,-3" fill="none" stroke="#000" stroke-width="6" stroke-linecap="round"/>
<path d="M 567.5,1046.1 l 6,-3" fill="none" stroke="#000" stroke-width="6" stroke-linecap="round"/>
<path d="M 577.6,1051.9 l 6,-3" fill="none" stroke="#000" stroke-width="6" stroke-linecap="round"/>
<path d="M 587.8,1057.8 l 6,-3" fill="none" stroke="#000" stroke-width="6" stroke-linecap="round"/>
<path d="M 598,1063.6 l 6,-3" fill="none" stroke="#000" stroke-width="6" stroke-linecap="round"/>
<path d="M 608.2,1069.4 l 6,-3" fill="none" stroke="#000" stroke-width="6" stroke-linecap="round"/>
<path d="M 618.4,1075.3 l 6,-3" fill="none" stroke="#000" stroke-width="6" stroke-linecap="round"/>
<path d="M 628.5,1081.1 l 6,-3" fill="none" stroke="#000" stroke-width="6" stroke-linecap="round"/>
<path d="M 638.7,1086.9 l 6,-3" fill="none" stroke="#000" stroke-width="6" stroke-linecap="round"/>
<path d="M 648.9,1092.8 l 6,-3" fill="none" stroke="#000" stroke-width="6" stroke-linecap="round"/>
<path d="M 659.1,1098.6 l 6,-3" fill="none" stroke="#000" stroke-width="6" stroke-linecap="round"/>
<path d="M 669.2,1104.5 l 6,-3" fill="none" stroke="#000" stroke-width="6" stroke-linecap="round"/>
<path d="M 679.4,1110.3 l 6,-3" fill="none" stroke="#000" stroke-width="6" stroke-linecap="round"/>
<path d="M 689.6,1116.1 l 6,-3" fill="none" stroke="#000" stroke-width="6" stroke-linecap="round"/>
<path d="M 699.8,1122 l 6,-3" fill="none" stroke="#000" stroke-width="6" stroke-linecap="round"/>
<path d="M 710,1127.8 l 6,-3" fill="none" stroke="#000" stroke-width="6" stroke-linecap="round"/>
<path d="M 720.1,1133.6 l 6,-3" fill="none" stroke="#000" stroke-width="6" stroke-linecap="round"/>
<path d="M 730.3,1139.5 l 6,-3" fill="none" stroke="#000" stroke-width="6" stroke-linecap="round"/>
<path d="M 740.5,1145.3 l 6,-3" fill="none" stroke="#000" stroke-width="6" stroke-linecap="round"/>
<path d="M 750.7,1151.1 l 6,-3" fill="none" stroke="#000" stroke-width="6" stroke-linecap="round"/>
<path d="M 760.9,1157 l 6,-3" fill="none" stroke="#000" stroke-width="6" stroke-linecap="round"/>
<path d="M 771,1162.8 l 6,-3" fill="none" stroke="#000" stroke-width="6" stroke-linecap="round"/>
<path d="M 781.2,1168.7 l 6,-3" fill="none" stroke="#000" stroke-width="6" stroke-linecap="round"/>
<path d="M 791.4,1174.5 l 6,-3" fill="none" stroke="#000" stroke-width="6" stroke-linecap="round"/>
<path d="M 801.6,1180.3 l 6,-3" fill="none" stroke="#000" stroke-width="6" stroke-linecap="round"/>
<path d="M 811.8,1186.2 l 6,-3" fill="none" stroke="#000" stroke-width="6" stroke-linecap="round"/>
<path d="M 821.9,1192 l 6,-3" fill="none" stroke="#000" stroke-width="6" stroke-linecap="round"/>
<path d="M 832.1,1197.8 l 6,-3" fill="none" stroke="#000" stroke-width="6" stroke-linecap="round"/>
<path d="M 842.3,1203.7 l 6,-3" fill="none" stroke="#000" stroke-width="6" stroke-linecap="round"/>
<path d="M 852.5,1209.5 l 6,-3" fill="none" stroke="#000" stroke-width="6" stroke-linecap="round"/>
<path d="M 862.6,1215.3 l 6,-3" fill="none" stroke="#000" stroke-width="6" stroke-linecap="round"/>
<path d="M 872.8,1221.2 l 6,-3" fill="none" stroke="#000" stroke-width="6" stroke-linecap="round"/>
<path d="M 883,1227 l 6,-3" fill="none" stroke="#000" stroke-width="6" stroke-linecap="round"/>
<path d="M 893.2,1232.9 l 6,-3" fill="none" stroke="#000" stroke-width="6" stroke-linecap="round"/>
<path d="M 903.4,1238.7 l 6,-3" fill="none" stroke="#000" stroke-width="6" stroke-linecap="round"/>
<path d="M 913.5,1244.5 l 6,-3" fill="none" stroke="#000" stroke-width="6" stroke-linecap="round"/>
<path d="M 923.7,1250.4 l 6,-3" fill="none" stroke="#000" stroke-width="6" stroke-linecap="round"/>
<path d="M 933.9,1256.2 l 6,-3" fill="none" stroke="#000" stroke-width="6" stroke-linecap="round"/>
<polyline points="392,962 920,1265.5" fill="none" stroke="#000" stroke-width="1.3"/>
<polyline points="387,966 930,1278" fill="none" stroke="#000" stroke-width="2.4" stroke-dasharray="120 6 40 6"/>
<polyline points="388,975 417.2,983.4 938.5,1280.4" fill="none" stroke="#000" stroke-width="4"/>
<polyline points="417.2,988 936,1286" fill="none" stroke="#000" stroke-width="3"/>
<polyline points="432,994.1 432,1002.1" fill="none" stroke="#000" stroke-width="2.2"/>
<polyline points="640,1112.6 640,1120.6" fill="none" stroke="#000" stroke-width="2.2"/>
<polyline points="848,1231.1 848,1239.1" fill="none" stroke="#000" stroke-width="2.2"/>
<polyline points="383.4,981.8 417.2,1001.1 425.3,1018.8 425.3,1196" fill="none" stroke="#000" stroke-width="4" stroke-linejoin="round"/>
<polyline points="425.3,1304 425.3,1315" fill="none" stroke="#000" stroke-width="4"/>
<polyline points="417.2,985 417.2,1001" fill="none" stroke="#000" stroke-width="2.4"/>
<polyline points="419,1010 419,1192" fill="none" stroke="#000" stroke-width="1.3"/>
<ellipse cx="394.7" cy="997.9" rx="3.5" ry="5" fill="#000" stroke="#000" stroke-width="2.5"/>
<ellipse cx="404.3" cy="1018.2" rx="1.4" ry="1.8" fill="none" stroke="#000" stroke-width="1"/>
<polyline points="965.9,1258 965.9,1815" fill="none" stroke="#000" stroke-width="1.3"/>
<polyline points="966,1256 944,1268" fill="none" stroke="#000" stroke-width="1.3"/>
<polyline points="939.3,1266 939.3,1301" fill="none" stroke="#000" stroke-width="5"/>
<polyline points="895,1773.5 895,1291.7 909.5,1282.9 936.9,1299.8 942,1297" fill="none" stroke="#000" stroke-width="4" stroke-linejoin="round"/>
<polyline points="909.5,1287 935,1303" fill="none" stroke="#000" stroke-width="1.3"/>
<polyline points="935.3,1303 935.3,1811" fill="none" stroke="#000" stroke-width="1.3"/>
<polyline points="939.3,1303 939.3,1815" fill="none" stroke="#000" stroke-width="1.3"/>
<path d="M 942,1775 L 942,1316 Q 943,1309 949,1307 Q 955,1308 954.6,1316 L 954.6,1770 Q 952,1778 944,1779" fill="none" stroke="#000" stroke-width="1.3"/>
<polyline points="950.6,1312 950.6,1770" fill="none" stroke="#000" stroke-width="1.3" stroke-dasharray="50 8"/>
<polyline points="946,1310 946,1776" fill="none" stroke="#000" stroke-width="1.3"/>
<ellipse cx="924" cy="1303" rx="4" ry="5.5" fill="#000" stroke="#000" stroke-width="2.2"/>
<ellipse cx="914.7" cy="1311.8" rx="1.6" ry="2" fill="none" stroke="#000" stroke-width="1"/>
<ellipse cx="957.8" cy="1382.4" rx="1.8" ry="2.4" fill="none" stroke="#000" stroke-width="1.1"/>
<ellipse cx="957.8" cy="1522.7" rx="1.8" ry="2.4" fill="none" stroke="#000" stroke-width="1.1"/>
<polyline points="770.3,1702.5 873.8,1761.3" fill="none" stroke="#000" stroke-width="5.6"/>
<polyline points="872,1760.5 873.8,1761.3 880,1755 891.5,1755 896.3,1766 896.3,1775.8" fill="none" stroke="#000" stroke-width="4" stroke-linejoin="round"/>
<ellipse cx="887" cy="1763" rx="2.5" ry="2" fill="none" stroke="#000" stroke-width="1.1"/>
<polyline points="770.3,1722.5 941.4,1820.9 954.3,1825.7 964,1822.5 964,1808 970,1805" fill="none" stroke="#000" stroke-width="4" stroke-linejoin="round"/>
<polyline points="770.3,1714.5 936.6,1811.2" fill="none" stroke="#000" stroke-width="2.4"/>
<polyline points="770.3,1709 930,1802" fill="none" stroke="#000" stroke-width="1.3" stroke-dasharray="40 6"/>
<polyline points="941.4,1820.9 941.4,1812" fill="none" stroke="#000" stroke-width="1.3"/>
<polyline points="954.3,1825.7 954.3,1812 964,1808" fill="none" stroke="#000" stroke-width="1.3"/>
<polygon points="147.5,1058 151,1052 159,1048 735,1381.5 743,1377 750,1390 762,1397 768,1401 768,1475 753,1485 147.5,1135" fill="#fff" stroke="#000" stroke-width="4" stroke-linejoin="round"/>
<polyline points="151,1062 752,1409" fill="none" stroke="#000" stroke-width="1.3"/>
<polyline points="156,1056 757,1403" fill="none" stroke="#000" stroke-width="1.3" stroke-dasharray="150 8"/>
<polyline points="751.4,1408 751.4,1482" fill="none" stroke="#000" stroke-width="1.3"/>
<polyline points="757.8,1405 757.8,1480" fill="none" stroke="#000" stroke-width="1.3"/>
<path d="M 751.4,1410 Q 752,1403 758,1401 L 767,1402" fill="none" stroke="#000" stroke-width="1.3"/>
<polyline points="173.9,1082.1 720,1397" fill="none" stroke="#000" stroke-width="2.4"/>
<polyline points="176,1088 729,1405.5" fill="none" stroke="#000" stroke-width="4"/>
<path d="M 172.5,1084 Q 171,1092 176,1098 Q 190,1108 200,1114 L 712.7,1415.1 Q 722,1419 731,1417 Q 733,1410 729,1403" fill="none" stroke="#000" stroke-width="1.3"/>
<polyline points="205,1112 700,1398" fill="none" stroke="#000" stroke-width="1.3" stroke-dasharray="90 10 30 10"/>
<path d="M 724,1407 Q 722,1413 725,1418" fill="none" stroke="#000" stroke-width="1.3"/>
<ellipse cx="196.5" cy="1136.9" rx="3" ry="4.5" fill="none" stroke="#000" stroke-width="1.4" transform="rotate(-20 196.5 1136.9)"/>
<ellipse cx="197.5" cy="1137.5" rx="1.6" ry="3" fill="#000" stroke="#000" stroke-width="1.2" transform="rotate(-20 197.5 1137.5)"/>
<ellipse cx="707.1" cy="1432" rx="3.5" ry="5.5" fill="none" stroke="#000" stroke-width="1.4" transform="rotate(-20 707.1 1432)"/>
<ellipse cx="708.5" cy="1432.5" rx="2" ry="3.8" fill="#000" stroke="#000" stroke-width="1.2" transform="rotate(-20 708.5 1432.5)"/>
<path d="M 183,1058 l 7,-4 l 0,6" fill="none" stroke="#000" stroke-width="2.5"/>
<polygon points="151.4,1649.5 151.4,1175.5 157.8,1170.7 759.4,1517.4 759.4,1993 753,1996.4" fill="#fff" stroke="#000" stroke-width="4" stroke-linejoin="round"/>
<polyline points="753,1521 753,1996" fill="none" stroke="#000" stroke-width="1.3" stroke-dasharray="40 20 400 0"/>
<polyline points="155,1178.5 751,1522.5" fill="none" stroke="#000" stroke-width="1.3" stroke-dasharray="170 22 40 22"/>
<polyline points="158,1182 700,1495" fill="none" stroke="#000" stroke-width="1.3" stroke-dasharray="120 30 30 40"/>
<polyline points="745,1520 753,1525" fill="none" stroke="#000" stroke-width="1.3"/>
<path d="M 487,1426.5 L 298,1317.5 Q 272,1318 272,1345 L 272,1540 Q 274,1578 300,1594 L 626,1783.5 Q 651,1786 651,1758 L 651,1555" fill="none" stroke="#000" stroke-width="1.3"/>
<path d="M 507,1438 L 535,1454 M 556,1466 L 596,1489.5 M 611,1498 L 628,1508 Q 636,1513 641,1522 M 645,1530 Q 650,1540 651,1548" fill="none" stroke="#000" stroke-width="1.3"/>
<path d="M 222,1351 L 237,1314 M 243,1353 L 274,1293 M 349,1393 L 388,1335 M 364,1409 L 374,1391 M 256,1612 L 314,1481.5 M 286.6,1536 L 307.6,1509 M 415.5,1597 L 433,1564 M 428,1605 L 464,1533 M 464,1750 L 493,1689 M 465,1766 L 473,1748 M 481,1772 L 532,1669 M 661,1885 L 700,1826 M 676,1900 L 686,1882 M 664,1852 L 674,1838 M 629,1567 L 654,1516 M 601,1640 L 648,1543" fill="none" stroke="#000" stroke-width="1.3"/>
<path d="M 40.9,1197.8 C 55,1198 70,1210 79.6,1219.6 C 86,1228 86,1245 82.8,1251.8 C 85,1262 100,1270 110,1274 L 118,1281 L 444,1467 C 470,1482 510,1490 541,1487 C 560,1492 583,1510 583,1532 L 580,1541 C 540,1545 490,1534 467,1525 C 440,1517 420,1510 402.6,1502.4 C 380,1493 360,1484 338.2,1473.4 C 310,1459 285,1442 261.5,1425.7 L 213.2,1396.7 L 181,1377.4 L 148.8,1358 L 116.6,1337.1 C 105,1329 95,1322 84.4,1314.6 C 70,1302 60,1292 52.2,1279.2 C 45,1268 38,1250 36.1,1240.5 C 33,1230 32,1215 33,1208 C 33.5,1201 36,1198.5 40.9,1197.8 Z" fill="#fff" stroke="#000" stroke-width="2.4" stroke-linejoin="round"/>
<path d="M 60,1290 C 75,1306 100,1322 120,1335 L 215,1393 L 262,1421 C 300,1446 350,1472 402,1497 C 440,1512 500,1532 575,1537" fill="none" stroke="#000" stroke-width="1.3"/>
<path d="M 41,1200 C 40,1230 48,1262 66.7,1290 M 52,1203 C 52,1235 62,1268 88,1295 M 74,1215 C 72,1240 78,1258 92,1270" fill="none" stroke="#000" stroke-width="1.3"/>
<path d="M 88,1278 C 80,1288 80,1300 82,1312" fill="none" stroke="#000" stroke-width="1.3"/>
<path d="M 92,1270 L 118,1285" fill="none" stroke="#000" stroke-width="1.3"/>
<path d="M 95,1296 L 425,1490" fill="none" stroke="#000" stroke-width="1.3" stroke-dasharray="26 8"/>
<path d="M 105,1288 L 430,1478" fill="none" stroke="#000" stroke-width="1.3" stroke-dasharray="40 10"/>
<path d="M 442,1470 C 436,1480 436,1500 440,1514" fill="none" stroke="#000" stroke-width="1.3"/>
<path d="M 450,1500 C 480,1512 530,1518 578,1518" fill="none" stroke="#000" stroke-width="1.3" stroke-dasharray="30 8"/>
<path d="M 118,1282 q -6,-2 -6,3 q 1,5 9,6 M 118,1281.5 l 12,7" fill="none" stroke="#000" stroke-width="1.4"/>
<path d="M 118,1280.5 q 6,-1 12,7" fill="none" stroke="#000" stroke-width="2.6"/>
<path d="M 138.6,1294 q -6,-2 -6,3 q 1,5 9,6 M 138.6,1293.5 l 12,7" fill="none" stroke="#000" stroke-width="1.4"/>
<path d="M 138.6,1292.5 q 6,-1 12,7" fill="none" stroke="#000" stroke-width="2.6"/>
<path d="M 159.1,1305.9 q -6,-2 -6,3 q 1,5 9,6 M 159.1,1305.4 l 12,7" fill="none" stroke="#000" stroke-width="1.4"/>
<path d="M 159.1,1304.4 q 6,-1 12,7" fill="none" stroke="#000" stroke-width="2.6"/>
<path d="M 179.7,1317.8 q -6,-2 -6,3 q 1,5 9,6 M 179.7,1317.3 l 12,7" fill="none" stroke="#000" stroke-width="1.4"/>
<path d="M 179.7,1316.3 q 6,-1 12,7" fill="none" stroke="#000" stroke-width="2.6"/>
<path d="M 200.2,1329.8 q -6,-2 -6,3 q 1,5 9,6 M 200.2,1329.3 l 12,7" fill="none" stroke="#000" stroke-width="1.4"/>
<path d="M 200.2,1328.3 q 6,-1 12,7" fill="none" stroke="#000" stroke-width="2.6"/>
<path d="M 220.8,1341.8 q -6,-2 -6,3 q 1,5 9,6 M 220.8,1341.2 l 12,7" fill="none" stroke="#000" stroke-width="1.4"/>
<path d="M 220.8,1340.2 q 6,-1 12,7" fill="none" stroke="#000" stroke-width="2.6"/>
<path d="M 241.3,1353.7 q -6,-2 -6,3 q 1,5 9,6 M 241.3,1353.2 l 12,7" fill="none" stroke="#000" stroke-width="1.4"/>
<path d="M 241.3,1352.2 q 6,-1 12,7" fill="none" stroke="#000" stroke-width="2.6"/>
<path d="M 261.9,1365.7 q -6,-2 -6,3 q 1,5 9,6 M 261.9,1365.2 l 12,7" fill="none" stroke="#000" stroke-width="1.4"/>
<path d="M 261.9,1364.2 q 6,-1 12,7" fill="none" stroke="#000" stroke-width="2.6"/>
<path d="M 282.4,1377.6 q -6,-2 -6,3 q 1,5 9,6 M 282.4,1377.1 l 12,7" fill="none" stroke="#000" stroke-width="1.4"/>
<path d="M 282.4,1376.1 q 6,-1 12,7" fill="none" stroke="#000" stroke-width="2.6"/>
<path d="M 303,1389.5 q -6,-2 -6,3 q 1,5 9,6 M 303,1389 l 12,7" fill="none" stroke="#000" stroke-width="1.4"/>
<path d="M 303,1388 q 6,-1 12,7" fill="none" stroke="#000" stroke-width="2.6"/>
<path d="M 323.5,1401.5 q -6,-2 -6,3 q 1,5 9,6 M 323.5,1401 l 12,7" fill="none" stroke="#000" stroke-width="1.4"/>
<path d="M 323.5,1400 q 6,-1 12,7" fill="none" stroke="#000" stroke-width="2.6"/>
<path d="M 344.1,1413.5 q -6,-2 -6,3 q 1,5 9,6 M 344.1,1413 l 12,7" fill="none" stroke="#000" stroke-width="1.4"/>
<path d="M 344.1,1412 q 6,-1 12,7" fill="none" stroke="#000" stroke-width="2.6"/>
<path d="M 364.6,1425.4 q -6,-2 -6,3 q 1,5 9,6 M 364.6,1424.9 l 12,7" fill="none" stroke="#000" stroke-width="1.4"/>
<path d="M 364.6,1423.9 q 6,-1 12,7" fill="none" stroke="#000" stroke-width="2.6"/>
<path d="M 385.2,1437.3 q -6,-2 -6,3 q 1,5 9,6 M 385.2,1436.8 l 12,7" fill="none" stroke="#000" stroke-width="1.4"/>
<path d="M 385.2,1435.8 q 6,-1 12,7" fill="none" stroke="#000" stroke-width="2.6"/>
<path d="M 405.7,1449.3 q -6,-2 -6,3 q 1,5 9,6 M 405.7,1448.8 l 12,7" fill="none" stroke="#000" stroke-width="1.4"/>
<path d="M 405.7,1447.8 q 6,-1 12,7" fill="none" stroke="#000" stroke-width="2.6"/>
<path d="M 426.2,1461.2 q -6,-2 -6,3 q 1,5 9,6 M 426.2,1460.8 l 12,7" fill="none" stroke="#000" stroke-width="1.4"/>
<path d="M 426.2,1459.8 q 6,-1 12,7" fill="none" stroke="#000" stroke-width="2.6"/>
<polyline points="1697,887.5 1739,863.3" fill="none" stroke="#fff" stroke-width="13"/>
<polyline points="1231,1156 1349,1087.3" fill="none" stroke="#000" stroke-width="1.7"/>
<polyline points="1364,1078.6 1385,1066.5" fill="none" stroke="#000" stroke-width="1.7"/>
<polyline points="1400,1057.4 1590,948.2" fill="none" stroke="#000" stroke-width="1.7"/>
<polyline points="1605,939.6 1626,927.5" fill="none" stroke="#000" stroke-width="1.7"/>
<polyline points="1643,918.3 1878,783" fill="none" stroke="#000" stroke-width="1.7"/>
<polyline points="1526,1485 1628.3,1426.7" fill="none" stroke="#000" stroke-width="1.7"/>
<polyline points="1642.8,1418.7 1665.4,1405.2" fill="none" stroke="#000" stroke-width="1.7"/>
<polyline points="1679.9,1396.8 1784.5,1336.6" fill="none" stroke="#000" stroke-width="1.7"/>
<polyline points="1798.9,1328.5 1819.8,1317.2" fill="none" stroke="#000" stroke-width="1.7"/>
<polyline points="1837.6,1306 1974.4,1226.5" fill="none" stroke="#000" stroke-width="1.7"/>
<polyline points="1980,1223.5 2003.4,1209.3" fill="none" stroke="#000" stroke-width="1.7"/>
<polyline points="1551,1544.3 1665.4,1479.9" fill="none" stroke="#000" stroke-width="1.7"/>
<polyline points="1679.9,1471.8 1702.4,1459" fill="none" stroke="#000" stroke-width="1.7"/>
<polyline points="1717,1451 1832.7,1383.3" fill="none" stroke="#000" stroke-width="1.7"/>
<polyline points="1847.2,1375.2 1869.8,1364" fill="none" stroke="#000" stroke-width="1.7"/>
<polyline points="1887.5,1352.7 1998.6,1289.9" fill="none" stroke="#000" stroke-width="1.7"/>
<polyline points="2197,1099.5 2128,1139.5" fill="none" stroke="#fff" stroke-width="15"/>
<polyline points="2240.5,1074 2189,1104" fill="none" stroke="#000" stroke-width="1.7"/>
<polyline points="2174.3,1112.5 2152,1126.2" fill="none" stroke="#000" stroke-width="1.7"/>
<polyline points="2137.4,1135.7 2042,1189.8" fill="none" stroke="#000" stroke-width="1.7"/>
<polyline points="2088.8,1167.5 2088.8,1219" fill="none" stroke="#000" stroke-width="1.7"/>
<polyline points="2088.8,1236.7 2072,1246" fill="none" stroke="#000" stroke-width="1.7"/>
<polyline points="2060,1252.5 2043.7,1261" fill="none" stroke="#000" stroke-width="1.7"/>
<polyline points="2111.3,746.2 2038.8,786.5" fill="none" stroke="#000" stroke-width="1.7" stroke-dasharray="22 9"/>
<polyline points="2000.2,1338 2000.2,1434.8" fill="none" stroke="#000" stroke-width="1.7" stroke-dasharray="46 8 14 8"/>
<polyline points="1744.3,1193 1744.3,1476.6" fill="none" stroke="#000" stroke-width="1.7" stroke-dasharray="90 10 24 10"/>
<polyline points="1710,1197 1726,1188" fill="none" stroke="#000" stroke-width="1.7"/>
<polyline points="1038,1692 1155.6,1626" fill="none" stroke="#000" stroke-width="1.7" stroke-dasharray="50 8 16 8"/>
<polyline points="1178.5,1612.2 1269.2,1560.6" fill="none" stroke="#000" stroke-width="1.7" stroke-dasharray="44 8 14 8"/>
<polyline points="1106.3,1228.6 1149.6,1203.8" fill="none" stroke="#000" stroke-width="1.7" stroke-dasharray="20 8"/>
<polyline points="761,810.6 706.3,841.2" fill="none" stroke="#000" stroke-width="1.7"/>
<polyline points="700,845 661.2,867" fill="none" stroke="#000" stroke-width="1.7" stroke-dasharray="18 9"/>
<polyline points="717.6,838 759.4,862.2" fill="none" stroke="#000" stroke-width="1.7"/>
<polyline points="759.4,863.8 703,896" fill="none" stroke="#000" stroke-width="1.7" stroke-dasharray="18 9"/>
<polyline points="615.3,896.5 491.3,967.3" fill="none" stroke="#000" stroke-width="1.7" stroke-dasharray="64 9 18 9"/>
<polyline points="432,1001 420,1008" fill="none" stroke="#000" stroke-width="1.7"/>
<polyline points="260.9,1098.2 404.2,1017.7" fill="none" stroke="#000" stroke-width="1.7"/>
<polyline points="186.8,1144.9 74.1,1206.1" fill="none" stroke="#000" stroke-width="1.7"/>
<polyline points="701.4,1435.3 585,1502" fill="none" stroke="#000" stroke-width="1.7"/>
<polyline points="2069.4,470.2 1977.6,562.6" fill="none" stroke="#000" stroke-width="3.2"/>
<polyline points="2127.4,751 2111.3,846" fill="none" stroke="#000" stroke-width="3.2"/>
<polyline points="1372.3,680.2 1465.7,689.9" fill="none" stroke="#000" stroke-width="3.2"/>
<polyline points="1009,704.3 1034.1,799.4" fill="none" stroke="#000" stroke-width="3.2"/>
<polyline points="732,722 791.6,780" fill="none" stroke="#000" stroke-width="3.2"/>
<polyline points="531.6,770.9 600.8,849.8" fill="none" stroke="#000" stroke-width="3.2"/>
<polyline points="338.3,844.9 391.5,936.7" fill="none" stroke="#000" stroke-width="3.2"/>
<polyline points="129,957.6 151.5,1047.8" fill="none" stroke="#000" stroke-width="3.2"/>
<polyline points="533,1159.4 613,1190" fill="none" stroke="#000" stroke-width="3.2"/>
<polyline points="115,1443.4 209.2,1400.7" fill="none" stroke="#000" stroke-width="3.2"/>
<polyline points="422.5,1817.6 360.7,1899.8" fill="none" stroke="#000" stroke-width="3.2"/>
<polyline points="1012.2,1727.5 969.7,1911" fill="none" stroke="#000" stroke-width="3.2"/>
<polyline points="1135.3,1706.5 1108.2,1824" fill="none" stroke="#000" stroke-width="3.2"/>
<polyline points="1282.7,1681 1295,1774.6" fill="none" stroke="#000" stroke-width="3.2"/>
<polyline points="1414.5,1596 1427.6,1696" fill="none" stroke="#000" stroke-width="3.2"/>
<polyline points="1522,1614 1583.2,1681.7" fill="none" stroke="#000" stroke-width="3.2"/>
<polyline points="1755.4,1525 1824.7,1602.3" fill="none" stroke="#000" stroke-width="3.2"/>
<polyline points="2017.9,1468.6 2101.6,1468.6" fill="none" stroke="#000" stroke-width="3.2"/>
<polyline points="2270.7,1075.7 2230.5,1219" fill="none" stroke="#000" stroke-width="3.2"/>
<polyline points="1682.4,1222.2 1675,1309.2" fill="none" stroke="#000" stroke-width="3.2"/>
<polyline points="1036.2,1010 1073.3,1224.4" fill="none" stroke="#000" stroke-width="3.2"/>
<polyline points="1186,670 1208,762" fill="none" stroke="#000" stroke-width="3.2"/>
<text transform="translate(2063 459.6) scale(0.8 1)" font-size="40">132</text>
<text transform="translate(2080.7 881.5) scale(0.8 1)" font-size="40">133</text>
<text transform="translate(1313.4 694.7) scale(0.8 1)" font-size="40">112</text>
<text transform="translate(1157.2 662.5) scale(0.8 1)" font-size="40">338</text>
<text transform="translate(980 694.7) scale(0.8 1)" font-size="40">101</text>
<text transform="translate(680.5 714) scale(0.8 1)" font-size="40">694</text>
<text transform="translate(489.7 761.2) scale(0.8 1)" font-size="40">144</text>
<text transform="translate(299.7 835.9) scale(0.8 1)" font-size="40">140</text>
<text transform="translate(100 948) scale(0.8 1)" font-size="40">105</text>
<text transform="translate(474.5 1165) scale(0.8 1)" font-size="40">122</text>
<text transform="translate(56.2 1462.7) scale(0.8 1)" font-size="40">136</text>
<text transform="translate(317.2 1936.2) scale(0.8 1)" font-size="40">121</text>
<text transform="translate(933.3 1948) scale(0.8 1)" font-size="40">875</text>
<text transform="translate(1076 1859.5) scale(0.8 1)" font-size="40">117</text>
<text transform="translate(1270 1813) scale(0.8 1)" font-size="40">113</text>
<text transform="translate(1408 1730.5) scale(0.8 1)" font-size="40">102</text>
<text transform="translate(1581.5 1718) scale(0.8 1)" font-size="40">281</text>
<text transform="translate(1824.7 1637.7) scale(0.8 1)" font-size="40">761</text>
<text transform="translate(2108 1479.9) scale(0.8 1)" font-size="40">804</text>
<text transform="translate(2185.4 1256) scale(0.8 1)" font-size="40">1005</text>
<text transform="translate(1649.3 1344.6) scale(0.8 1)" font-size="40">134</text>
<text transform="translate(1007 1002) scale(0.8 1)" font-size="40">875</text>
</svg></body></html>
